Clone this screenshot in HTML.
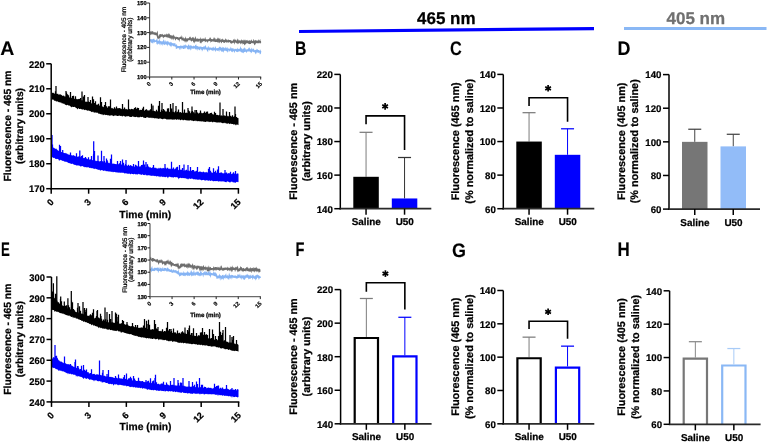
<!DOCTYPE html>
<html><head><meta charset="utf-8"><style>
html,body{margin:0;padding:0;background:#fff;}
svg{display:block;font-family:"Liberation Sans", sans-serif;will-change:transform;}

</style></head><body>
<svg width="768" height="442" viewBox="0 0 768 442" text-rendering="geometricPrecision">
<rect width="768" height="442" fill="#fff"/>
<polygon points="299,30 594,27 594,30.2 299,33" fill="#0000ff"/>
<rect x="624" y="27" width="142.5" height="3" fill="#8ab8f5"/>
<text x="417" y="24" font-size="17" text-anchor="start" font-weight="bold" fill="#000" stroke="#000" stroke-width="0.25" >465 nm</text>
<text x="666.5" y="24.1" font-size="17" text-anchor="start" font-weight="bold" fill="#707070" stroke="#707070" stroke-width="0.25" >405 nm</text>
<text x="0.3" y="55" font-size="19.5" text-anchor="start" font-weight="bold" fill="#000" stroke="#000" stroke-width="0.1" >A</text>
<text x="295" y="55" font-size="19.5" text-anchor="start" font-weight="bold" fill="#000" stroke="#000" stroke-width="0.1" transform="translate(295,0) scale(0.81,1) translate(-295,0)">B</text>
<text x="450" y="55.3" font-size="19.5" text-anchor="start" font-weight="bold" fill="#000" stroke="#000" stroke-width="0.1" transform="translate(450,0) scale(0.83,1) translate(-450,0)">C</text>
<text x="617.5" y="55" font-size="19.5" text-anchor="start" font-weight="bold" fill="#000" stroke="#000" stroke-width="0.1" transform="translate(617.5,0) scale(0.92,1) translate(-617.5,0)">D</text>
<text x="1" y="256.3" font-size="19.5" text-anchor="start" font-weight="bold" fill="#000" stroke="#000" stroke-width="0.1" transform="translate(1,0) scale(0.68,1) translate(-1,0)">E</text>
<text x="295.5" y="256.3" font-size="19.5" text-anchor="start" font-weight="bold" fill="#000" stroke="#000" stroke-width="0.1" transform="translate(295.5,0) scale(0.75,1) translate(-295.5,0)">F</text>
<text x="452" y="256.5" font-size="19.5" text-anchor="start" font-weight="bold" fill="#000" stroke="#000" stroke-width="0.1" transform="translate(452,0) scale(0.92,1) translate(-452,0)">G</text>
<text x="617.5" y="256.3" font-size="19.5" text-anchor="start" font-weight="bold" fill="#000" stroke="#000" stroke-width="0.1" transform="translate(617.5,0) scale(0.87,1) translate(-617.5,0)">H</text>
<path d="M52,92.59 52.5,92.71 53,93.18 53.5,92.59 54,93.57 54.5,93.76 55,93.16 55.5,94.06 56,93.99 56.5,93.82 57,93.72 57.5,94.07 58,93.56 58.5,94.52 59,94.95 59.5,94.15 60,94.28 60.5,94.35 61,95.1 61.5,94.79 62,95.46 62.5,95.86 63,96.07 63.5,95.61 64,95.54 64.5,96.42 65,96.38 65.5,96.48 66,96.51 66.5,97 67,96.95 67.5,97.04 68,96.84 68.5,97.23 69,97.24 69.5,97.74 70,97.12 70.5,97.33 71,97.19 71.5,97.94 72,98.27 72.5,97.69 73,98.58 73.5,98.63 74,98.28 74.5,98.89 75,98.72 75.5,98.92 76,99.05 76.5,98.81 77,99.54 77.5,98.98 78,99.36 78.5,98.86 79,99.29 79.5,99.44 80,99.98 80.5,99.49 81,99.64 81.5,100.36 82,100.86 82.5,100.04 83,100.36 83.5,100.37 84,101.48 84.5,101.38 85,101.06 85.5,101.93 86,101.84 86.5,101.43 87,101.97 87.5,101.98 88,101.58 88.5,102.4 89,101.92 89.5,101.92 90,102.66 90.5,102.87 91,103.15 91.5,103.15 92,103.81 92.5,103.65 93,103.64 93.5,104.07 94,103.98 94.5,103.72 95,104.61 95.5,105 96,104.97 96.5,104.51 97,104.6 97.5,104.59 98,104.97 98.5,105.25 99,105.49 99.5,105.2 100,106.25 100.5,105.84 101,105.64 101.5,106.19 102,105.85 102.5,106.95 103,106.24 103.5,107.19 104,106.98 104.5,107.31 105,106.59 105.5,107.12 106,107.55 106.5,107.06 107,107.03 107.5,107.69 108,108.01 108.5,107.74 109,107.84 109.5,108.56 110,108.22 110.5,108.14 111,108.1 111.5,107.67 112,108.65 112.5,107.74 113,108.62 113.5,108.72 114,108.63 114.5,108.5 115,108.07 115.5,108.67 116,108.48 116.5,108.39 117,108.29 117.5,108.05 118,108.82 118.5,108.04 119,108.04 119.5,108.11 120,108.33 120.5,108.23 121,109.11 121.5,109.27 122,108.23 122.5,108.74 123,108.56 123.5,109.28 124,108.82 124.5,109.25 125,108.31 125.5,109.46 126,108.64 126.5,108.97 127,109.6 127.5,109.43 128,109.19 128.5,109.09 129,108.78 129.5,109.01 130,109.19 130.5,109.52 131,108.93 131.5,108.81 132,109 132.5,109.08 133,109.42 133.5,109.24 134,108.91 134.5,109.28 135,109.63 135.5,109.29 136,110.13 136.5,109.88 137,109.99 137.5,109.95 138,109.67 138.5,109.12 139,110.25 139.5,110.32 140,109.83 140.5,109.71 141,109.98 141.5,110.08 142,109.89 142.5,110.24 143,110.59 143.5,110.21 144,110.66 144.5,110.67 145,110.23 145.5,110.21 146,110.32 146.5,110.2 147,110.41 147.5,110.37 148,110.24 148.5,110.38 149,110.48 149.5,110.28 150,110.13 150.5,110.81 151,110.6 151.5,110.42 152,110.18 152.5,111.35 153,110.93 153.5,110.83 154,110.71 154.5,111.11 155,111.19 155.5,111.55 156,110.93 156.5,111.21 157,111.32 157.5,111.41 158,110.74 158.5,111.76 159,111.82 159.5,111.14 160,111.91 160.5,111.93 161,111.22 161.5,111.65 162,111.96 162.5,111.02 163,111.62 163.5,111.79 164,111.13 164.5,111.79 165,111.78 165.5,111.32 166,111.62 166.5,111.27 167,111.7 167.5,111.59 168,111.74 168.5,112.33 169,112.35 169.5,111.58 170,112.24 170.5,111.61 171,111.4 171.5,111.95 172,111.52 172.5,111.85 173,111.68 173.5,111.94 174,111.78 174.5,112.59 175,112.35 175.5,112.32 176,112.79 176.5,112.11 177,112.85 177.5,111.86 178,112.76 178.5,112.15 179,112.82 179.5,112.16 180,112.12 180.5,112.07 181,112.5 181.5,112.92 182,112.26 182.5,112.63 183,112.49 183.5,112.86 184,112.61 184.5,112.98 185,112.78 185.5,113.11 186,112.54 186.5,112.47 187,113.2 187.5,112.97 188,112.88 188.5,112.66 189,113.53 189.5,113.02 190,112.7 190.5,113.61 191,112.84 191.5,113.57 192,112.54 192.5,113.69 193,113.42 193.5,113.69 194,113.45 194.5,113.25 195,113.3 195.5,113.39 196,113.3 196.5,112.83 197,113.59 197.5,112.89 198,113.22 198.5,113.59 199,113.55 199.5,112.6 200,112.92 200.5,113.24 201,113.68 201.5,112.52 202,112.97 202.5,113.29 203,113.25 203.5,112.71 204,112.78 204.5,113.28 205,112.84 205.5,112.93 206,112.74 206.5,113.86 207,113.2 207.5,113.69 208,113.04 208.5,113.64 209,114.06 209.5,113.48 210,113.56 210.5,114.35 211,114.5 211.5,114.77 212,113.76 212.5,114.17 213,114.35 213.5,114.58 214,114.55 214.5,115 215,114.63 215.5,115.28 216,114.95 216.5,114.74 217,115.04 217.5,114.65 218,115.05 218.5,115.15 219,115.46 219.5,114.81 220,115.05 220.5,115.92 221,115.46 221.5,115.28 222,115.8 222.5,116.14 223,115.48 223.5,115.37 224,115.71 224.5,115.49 225,115.36 225.5,116.2 226,115.55 226.5,116.26 227,115.67 227.5,115.69 228,116.63 228.5,115.86 229,116.58 229.5,116.01 230,116.37 230.5,117.13 231,116.88 231.5,116.46 232,116.26 232.5,117.18 233,117.27 233.5,116.77 234,116.84 234.5,117.42 235,116.96 235.5,117.71 236,117.25 236.5,117.61 237,117.91 237.5,117.78 238,117.91 238.5,118.16 238.5,124.86 238,125.23 237.5,124.55 237,124.5 236.5,124.4 236,125.52 235.5,125.01 235,124.24 234.5,124.2 234,124.72 233.5,124.56 233,123.89 232.5,123.95 232,124.03 231.5,123.65 231,124.36 230.5,123.5 230,123.52 229.5,124.26 229,123.68 228.5,123.34 228,123.37 227.5,123.99 227,123.26 226.5,123.52 226,123.64 225.5,123.09 225,122.7 224.5,122.77 224,123.49 223.5,122.76 223,123.35 222.5,123.34 222,122.77 221.5,122.84 221,122.66 220.5,122.33 220,122.45 219.5,122.83 219,122.09 218.5,122.42 218,122.84 217.5,122.28 217,122.81 216.5,122.52 216,122.12 215.5,122.61 215,121.64 214.5,122.14 214,121.72 213.5,121.66 213,122.6 212.5,122.2 212,122.1 211.5,121.59 211,121.93 210.5,121.93 210,121.62 209.5,121.91 209,122.19 208.5,121.81 208,121.36 207.5,121.66 207,121.5 206.5,121.39 206,121.75 205.5,121.93 205,122.05 204.5,121.54 204,121.92 203.5,121.6 203,121.47 202.5,121.58 202,120.93 201.5,121.67 201,121.25 200.5,121.16 200,121.57 199.5,121.18 199,121.12 198.5,120.89 198,121.46 197.5,121.28 197,120.67 196.5,120.82 196,121.39 195.5,120.59 195,120.74 194.5,120.84 194,120.88 193.5,121.21 193,120.73 192.5,120.5 192,120.91 191.5,120.43 191,120.35 190.5,120.25 190,120.21 189.5,120.4 189,120.67 188.5,120.23 188,120.64 187.5,120.22 187,120.44 186.5,120.51 186,119.66 185.5,120.16 185,120.24 184.5,119.83 184,119.7 183.5,120.31 183,120.43 182.5,119.72 182,119.8 181.5,119.44 181,120.32 180.5,120.24 180,119.78 179.5,119.59 179,119.53 178.5,119.82 178,119.42 177.5,119.21 177,119.61 176.5,119.9 176,119.41 175.5,119.37 175,119.22 174.5,119.77 174,119.42 173.5,119.5 173,119.84 172.5,119.78 172,119.31 171.5,119.6 171,119.52 170.5,119.22 170,119.57 169.5,119.42 169,119.37 168.5,119.45 168,119.47 167.5,119.45 167,119.19 166.5,119.64 166,118.74 165.5,119.07 165,118.69 164.5,118.83 164,118.69 163.5,118.81 163,119.18 162.5,119.29 162,119.03 161.5,119.02 161,118.54 160.5,118.53 160,118.41 159.5,118.45 159,118.67 158.5,118.94 158,118.45 157.5,118.52 157,118.58 156.5,118.14 156,118.61 155.5,117.91 155,118.49 154.5,118.18 154,118.21 153.5,117.69 153,118.19 152.5,117.59 152,118.4 151.5,117.62 151,117.98 150.5,117.62 150,118.08 149.5,117.5 149,118.23 148.5,117.61 148,117.62 147.5,117.25 147,117.29 146.5,117.17 146,118 145.5,117.92 145,117.92 144.5,117.82 144,117.87 143.5,117.74 143,116.97 142.5,116.79 142,117.02 141.5,116.99 141,117.2 140.5,116.69 140,116.77 139.5,117.5 139,117.14 138.5,117.15 138,117.45 137.5,117.36 137,116.8 136.5,116.79 136,116.98 135.5,117.09 135,117.3 134.5,116.84 134,116.91 133.5,116.83 133,116.19 132.5,116.22 132,116.89 131.5,116.97 131,116.87 130.5,116.94 130,116.98 129.5,116.38 129,116.65 128.5,115.94 128,116.1 127.5,116.33 127,116.55 126.5,116.26 126,116.13 125.5,116.73 125,116.68 124.5,115.93 124,116.27 123.5,115.71 123,115.84 122.5,116.38 122,116.57 121.5,115.78 121,115.95 120.5,115.95 120,115.76 119.5,115.6 119,115.66 118.5,115.73 118,116.12 117.5,115.96 117,115.96 116.5,115.45 116,115.64 115.5,115.43 115,115.32 114.5,115.79 114,115.83 113.5,116.18 113,115.7 112.5,115.53 112,115.45 111.5,115.26 111,115.37 110.5,115.62 110,115.7 109.5,115.79 109,115.24 108.5,115.23 108,115.43 107.5,115.35 107,114.98 106.5,114.98 106,114.79 105.5,115.13 105,114.79 104.5,114.54 104,114.73 103.5,114.66 103,115.48 102.5,114.14 102,114.48 101.5,114.33 101,114.44 100.5,114.1 100,114.02 99.5,113.62 99,113.9 98.5,113.79 98,112.87 97.5,112.69 97,112.85 96.5,112.84 96,112.45 95.5,112.51 95,112.38 94.5,112.72 94,112.25 93.5,112.56 93,111.36 92.5,112.2 92,111.77 91.5,112.3 91,111.62 90.5,111.27 90,110.78 89.5,110.67 89,111.13 88.5,110.31 88,110.44 87.5,110.76 87,110.51 86.5,110.17 86,109.79 85.5,109.81 85,110.32 84.5,109.99 84,109.78 83.5,109.15 83,109.54 82.5,109.58 82,109.38 81.5,109.21 81,109.09 80.5,108.83 80,108.99 79.5,108.95 79,108.92 78.5,107.96 78,108.47 77.5,109.52 77,108.86 76.5,108.01 76,108.07 75.5,107.61 75,106.96 74.5,106.78 74,106.9 73.5,107.04 73,107.06 72.5,106.8 72,106.76 71.5,107.47 71,106.66 70.5,106.58 70,105.75 69.5,105.48 69,105.72 68.5,105.43 68,105.04 67.5,104.7 67,105.22 66.5,105.26 66,104.95 65.5,104.81 65,104.72 64.5,104 64,103.53 63.5,103.67 63,103.85 62.5,103.12 62,103.66 61.5,102.79 61,102.42 60.5,102.64 60,102 59.5,102.19 59,102.38 58.5,101.65 58,102.06 57.5,101.31 57,101.34 56.5,101.48 56,101.38 55.5,100.78 55,100.67 54.5,100.85 54,100.48 53.5,99.57 53,99.79 52.5,99.6 52,99.45Z" fill="#000"/>
<path d="M55.5,95.08V91.13 M66.5,98.12V92.49 M67.5,98.4V94.15 M68.5,98.68V95.29 M72.5,99.67V96.06 M73.5,99.91V95.82 M75.5,100.36V96.18 M79.5,101.29V98.89 M80.5,101.54V97.9 M83.5,102.38V96.54 M84.5,102.66V94.95 M88.5,103.78V101.4 M89.5,104.06V101.96 M90.5,104.37V100.04 M92.5,105.03V100.89 M93.5,105.36V99.23 M94.5,105.69V102.98 M95.5,106.02V101.2 M98.5,107V103.74 M100.5,107.61V97.15 M101.5,107.83V104.22 M104.5,108.49V105.03 M106.5,108.93V106.27 M108.5,109.37V106.17 M109.5,109.59V106.26 M110.5,109.73V107.64 M114.5,109.92V107.22 M116.5,110.03V106.54 M122.5,110.35V107.11 M124.5,110.47V107.46 M134.5,111.07V108.05 M135.5,111.13V107.22 M136.5,111.19V108.64 M137.5,111.25V107.74 M138.5,111.31V107.89 M142.5,111.6V108.44 M143.5,111.68V106.86 M145.5,111.84V109.8 M146.5,111.92V109.19 M150.5,112.24V109.16 M151.5,112.32V103.7 M156.5,112.72V109.79 M158.5,112.88V105.74 M159.5,112.96V107.43 M161.5,113.08V109.87 M162.5,113.12V111.02 M163.5,113.17V109 M164.5,113.22V110.33 M167.5,113.38V108.43 M168.5,113.42V108.32 M170.5,113.53V110.98 M171.5,113.59V108.6 M175.5,113.83V111 M177.5,113.95V111.85 M178.5,114.01V109.62 M182.5,114.25V109.59 M184.5,114.37V109.57 M188.5,114.61V110.21 M189.5,114.67V111.33 M191.5,114.7V111.54 M192.5,114.7V111.05 M193.5,114.7V112.29 M196.5,114.7V110.07 M197.5,114.7V112.47 M200.5,114.7V110.6 M204.5,114.7V111.51 M206.5,114.95V111.71 M207.5,115.12V111.48 M210.5,115.64V112.93 M211.5,115.81V112.78 M214.5,116.32V111.67 M215.5,116.46V112.93 M226.5,117.69V111.44 M230.5,118.19V115.84 M232.5,118.44V115.37 M234.5,118.7V116.18 M235.5,118.82V114.09 M236.5,118.95V116.95 M56,95.22V86 M66,97.98V91 M70.5,99.21V92 M82,101.96V91.5 M88,103.64V97 M92.5,105.03V96.5 M101.5,107.83V102 M105.5,108.71V102 M110.5,109.73V99.5 M122.5,110.35V104 M128.5,110.71V99.5 M153,112.44V105.5 M159.5,112.96V101 M162,113.1V103 M170.5,113.53V104 M173,113.68V103 M176,113.86V106 M182.5,114.25V102 M188,114.58V108 M192,114.7V106.5 M195,114.7V110 M220,116.95V102.5 M223,117.28V109 M229.5,118.07V112 M235,118.76V106.5" stroke="#000" stroke-width="1.25" fill="none"/>
<path d="M52,146.72 52.5,147.42 53,147.55 53.5,147.45 54,148.3 54.5,147.68 55,148.97 55.5,148.87 56,148.55 56.5,148.76 57,149.73 57.5,149.78 58,150.76 58.5,150.64 59,150.84 59.5,150.54 60,151.57 60.5,151.37 61,151.91 61.5,151.92 62,152.18 62.5,152.36 63,152.93 63.5,152.39 64,152.99 64.5,153.02 65,153.18 65.5,152.78 66,153.66 66.5,153.18 67,153.53 67.5,154.61 68,153.62 68.5,154.95 69,154.15 69.5,154.69 70,155.18 70.5,155.42 71,155.39 71.5,154.99 72,155.6 72.5,155.22 73,155.66 73.5,155.09 74,155.28 74.5,155.99 75,155.65 75.5,156.27 76,156.8 76.5,155.97 77,156.4 77.5,157.03 78,156.14 78.5,156.62 79,156.64 79.5,157.1 80,157.53 80.5,156.98 81,156.81 81.5,157.51 82,157.75 82.5,157.14 83,158.05 83.5,158.24 84,157.78 84.5,158.01 85,158.3 85.5,158.69 86,158.61 86.5,158.03 87,158.89 87.5,158.83 88,159.38 88.5,159.35 89,159.43 89.5,159.42 90,159.61 90.5,159.09 91,159.72 91.5,159.83 92,159.94 92.5,160.28 93,160 93.5,159.69 94,159.96 94.5,159.91 95,159.99 95.5,161.14 96,160.4 96.5,161.14 97,160.74 97.5,160.93 98,160.9 98.5,161.02 99,161.42 99.5,161.14 100,161.51 100.5,161.04 101,161.78 101.5,161.35 102,162.31 102.5,162.51 103,161.79 103.5,161.54 104,162.75 104.5,162.29 105,162.44 105.5,162.74 106,161.98 106.5,162.08 107,162.18 107.5,163.36 108,162.58 108.5,163.14 109,162.44 109.5,162.97 110,163.52 110.5,163.7 111,163.02 111.5,163.84 112,163.81 112.5,163.38 113,163.7 113.5,163.58 114,163.76 114.5,163.85 115,163.99 115.5,163.93 116,164.37 116.5,164.21 117,163.76 117.5,164.29 118,164.44 118.5,164.03 119,164.24 119.5,164.29 120,164 120.5,164.11 121,164.33 121.5,164.79 122,164.29 122.5,164.24 123,164.9 123.5,165 124,165.44 124.5,165.52 125,165.16 125.5,165.66 126,164.83 126.5,165.56 127,165.17 127.5,165.86 128,166.13 128.5,165.34 129,165.91 129.5,166.08 130,165.5 130.5,165.61 131,166 131.5,165.59 132,166.07 132.5,166.46 133,165.85 133.5,165.96 134,166.36 134.5,166.68 135,166.68 135.5,165.72 136,165.91 136.5,166.66 137,166.61 137.5,166.07 138,166.66 138.5,166.82 139,166.62 139.5,166.58 140,166.45 140.5,166.06 141,166.81 141.5,166.85 142,166.43 142.5,166.17 143,166.85 143.5,166.22 144,166.37 144.5,166.35 145,166.97 145.5,167.51 146,166.56 146.5,166.88 147,166.88 147.5,166.96 148,167.25 148.5,167.62 149,167.16 149.5,167.13 150,167.53 150.5,166.94 151,167.91 151.5,167.73 152,167.88 152.5,167.13 153,167.11 153.5,167.61 154,167.73 154.5,168.03 155,167.37 155.5,168.24 156,167.43 156.5,168.47 157,168.32 157.5,168.38 158,168.63 158.5,168.32 159,167.61 159.5,168.65 160,167.85 160.5,167.67 161,168.53 161.5,168.01 162,168.7 162.5,167.87 163,168.46 163.5,167.78 164,168.16 164.5,168.1 165,169.04 165.5,168.26 166,168.63 166.5,168.29 167,168.96 167.5,168.28 168,168.84 168.5,168.85 169,168.39 169.5,169.2 170,168.11 170.5,168.93 171,169.29 171.5,169.41 172,168.68 172.5,168.71 173,168.48 173.5,169.55 174,169.67 174.5,169.09 175,169 175.5,169.8 176,169.51 176.5,169.55 177,169.57 177.5,169.28 178,170.06 178.5,170.23 179,169.57 179.5,169.37 180,169.8 180.5,169.53 181,170.12 181.5,169.54 182,169.86 182.5,170.14 183,170.65 183.5,170.68 184,170.43 184.5,170.5 185,170.23 185.5,170.51 186,169.98 186.5,171.09 187,170.96 187.5,170.78 188,170.59 188.5,170.59 189,170.84 189.5,170.47 190,171.45 190.5,171.6 191,171.22 191.5,170.58 192,170.99 192.5,170.98 193,170.73 193.5,171.33 194,171 194.5,171.85 195,171.09 195.5,171.58 196,171.28 196.5,171.8 197,171.03 197.5,171.6 198,172.14 198.5,171.66 199,172.14 199.5,171.29 200,171.83 200.5,171.53 201,171.71 201.5,172.28 202,171.84 202.5,172.43 203,171.56 203.5,171.66 204,171.82 204.5,172.51 205,172.34 205.5,172.56 206,171.81 206.5,172.09 207,172.69 207.5,172.53 208,172.1 208.5,171.83 209,172.12 209.5,171.9 210,171.96 210.5,172.85 211,172.82 211.5,172.34 212,172.22 212.5,173.01 213,172.73 213.5,172.24 214,172.26 214.5,172.41 215,172.91 215.5,172.25 216,172.72 216.5,172.6 217,172.78 217.5,172.49 218,172.29 218.5,173.37 219,172.42 219.5,173.04 220,172.88 220.5,172.42 221,172.59 221.5,173.09 222,173.52 222.5,173 223,173.18 223.5,173.56 224,172.98 224.5,173.5 225,172.69 225.5,173.34 226,172.92 226.5,172.98 227,173.51 227.5,173.7 228,173.36 228.5,173.21 229,172.99 229.5,173.06 230,174.07 230.5,173.44 231,173.55 231.5,174.15 232,173.67 232.5,173.13 233,173.81 233.5,173.33 234,173.86 234.5,173.29 235,173.99 235.5,173.71 236,174.38 236.5,173.75 237,173.59 237.5,173.36 238,173.71 238.5,173.52 238.5,181.9 238,182.36 237.5,181.78 237,182.31 236.5,181.87 236,182.22 235.5,183.07 235,182.54 234.5,182.53 234,182.53 233.5,182.2 233,182.54 232.5,182.06 232,181.53 231.5,181.83 231,181.78 230.5,181.95 230,183.05 229.5,182.08 229,182.18 228.5,181.46 228,182.02 227.5,181.32 227,181.32 226.5,182.17 226,182.2 225.5,182.05 225,182.07 224.5,181.73 224,181.37 223.5,181.61 223,181.62 222.5,181.21 222,181.62 221.5,181.6 221,181.34 220.5,181.19 220,181.78 219.5,180.96 219,181.56 218.5,181.38 218,181.4 217.5,181.12 217,180.85 216.5,181.14 216,181.12 215.5,181.24 215,181.06 214.5,180.97 214,181.32 213.5,181.2 213,181.16 212.5,180.82 212,180.82 211.5,180.28 211,180.97 210.5,181.06 210,180.39 209.5,180.35 209,180.89 208.5,180.71 208,180.27 207.5,180.38 207,180.43 206.5,179.93 206,180.51 205.5,180.4 205,180.38 204.5,180.45 204,179.69 203.5,179.95 203,179.88 202.5,179.89 202,180.19 201.5,180.16 201,180.14 200.5,179.42 200,179.89 199.5,179.61 199,179.13 198.5,179.73 198,180.01 197.5,179.62 197,179.65 196.5,179.4 196,178.94 195.5,179.67 195,179.18 194.5,179.33 194,179.35 193.5,179.46 193,178.85 192.5,178.81 192,178.84 191.5,178.62 191,178.66 190.5,178.89 190,178.78 189.5,178.4 189,178.42 188.5,179.09 188,179.81 187.5,178.73 187,178.76 186.5,178.93 186,177.94 185.5,178.54 185,178.14 184.5,178.18 184,177.9 183.5,178.18 183,177.74 182.5,178.23 182,177.67 181.5,178.15 181,177.95 180.5,177.84 180,177.85 179.5,178.14 179,178.13 178.5,179.46 178,177.52 177.5,177.78 177,177.1 176.5,177.14 176,177.19 175.5,177.15 175,177.3 174.5,177.02 174,177.11 173.5,177.67 173,177.53 172.5,177.05 172,177.78 171.5,176.91 171,177.17 170.5,177.03 170,176.71 169.5,176.8 169,176.81 168.5,177 168,178.62 167.5,177.38 167,176.97 166.5,176.58 166,177.16 165.5,177.29 165,176.63 164.5,176.97 164,177.23 163.5,176.42 163,177.23 162.5,176.69 162,176.82 161.5,176.31 161,177.05 160.5,176.28 160,177.52 159.5,176.22 159,176.83 158.5,176.14 158,176.61 157.5,175.89 157,176.21 156.5,176.55 156,176.33 155.5,175.88 155,175.81 154.5,176.04 154,176.35 153.5,175.53 153,175.94 152.5,175.43 152,175.95 151.5,175.75 151,175.65 150.5,175.71 150,175.2 149.5,175.46 149,175.22 148.5,175.25 148,175.23 147.5,175.32 147,175.65 146.5,175.08 146,175.49 145.5,174.6 145,174.65 144.5,175.28 144,174.66 143.5,175.06 143,175.05 142.5,174.24 142,174.32 141.5,175 141,174.95 140.5,174.25 140,174.43 139.5,174.2 139,173.94 138.5,173.85 138,174.56 137.5,174.6 137,174.32 136.5,174.13 136,174.56 135.5,174.21 135,174.25 134.5,173.67 134,173.89 133.5,174.44 133,174.07 132.5,173.93 132,174.12 131.5,173.5 131,174.3 130.5,174.32 130,173.92 129.5,173.74 129,173.3 128.5,174.06 128,173.78 127.5,173.63 127,173.59 126.5,173.17 126,173.85 125.5,173.09 125,173.4 124.5,173.57 124,172.99 123.5,172.67 123,172.87 122.5,172.65 122,172.83 121.5,172.4 121,173.03 120.5,172.76 120,172.44 119.5,172.5 119,173.03 118.5,172.51 118,172.62 117.5,172.77 117,172.04 116.5,172.62 116,172.43 115.5,172.22 115,171.98 114.5,171.94 114,171.74 113.5,171.94 113,172.43 112.5,171.75 112,171.87 111.5,172 111,171.46 110.5,171.7 110,171.49 109.5,171.57 109,171.44 108.5,171.27 108,171.65 107.5,170.98 107,171.28 106.5,170.97 106,171.53 105.5,170.56 105,170.94 104.5,170.54 104,170.49 103.5,170.94 103,170.74 102.5,170.3 102,170.06 101.5,170.04 101,170.45 100.5,170.45 100,170.56 99.5,169.86 99,169.87 98.5,169.81 98,170.02 97.5,169.55 97,169.08 96.5,169.17 96,169.04 95.5,168.79 95,168.52 94.5,169.21 94,168.57 93.5,168.96 93,168.07 92.5,168.15 92,168.59 91.5,168.04 91,168.16 90.5,168.03 90,167.43 89.5,168.09 89,168.07 88.5,167.09 88,167.19 87.5,167.24 87,167.52 86.5,167.26 86,167.29 85.5,167.07 85,167.3 84.5,167.21 84,166.44 83.5,167.11 83,166.31 82.5,166.03 82,166.18 81.5,166.03 81,166.87 80.5,166.44 80,165.69 79.5,165.78 79,165.71 78.5,165.3 78,165.73 77.5,165.25 77,165.55 76.5,165.52 76,165.19 75.5,165.08 75,164.78 74.5,164.65 74,164.88 73.5,164.34 73,163.88 72.5,163.63 72,163.61 71.5,163.92 71,164.02 70.5,163.23 70,163.75 69.5,163.12 69,163.12 68.5,162.64 68,163.16 67.5,162.04 67,162.18 66.5,161.69 66,161.71 65.5,161.53 65,162.16 64.5,161.25 64,161.52 63.5,160.76 63,161.11 62.5,160.79 62,160.76 61.5,160.11 61,160.43 60.5,159.87 60,159.96 59.5,160.4 59,160.72 58.5,159.49 58,159.07 57.5,158.88 57,158.68 56.5,159.31 56,158.7 55.5,158.95 55,158.52 54.5,157.72 54,157.92 53.5,157.86 53,157.94 52.5,156.96 52,157.43Z" fill="#0000ff"/>
<path d="M52.5,148.59V144.39 M59.5,152.71V144.85 M70.5,156.61V152.62 M76.5,157.93V153.33 M79.5,158.59V156.37 M81.5,159.04V156.02 M82.5,159.27V155.32 M85.5,159.97V156.96 M88.5,160.66V157.24 M91.5,161.31V156.04 M93.5,161.73V154.28 M94.5,161.94V150.94 M100.5,163.19V161.13 M101.5,163.35V159.12 M102.5,163.53V161.34 M104.5,163.87V160.98 M106.5,164.21V158.45 M107.5,164.38V161.29 M110.5,164.86V158.85 M111.5,164.97V154.49 M117.5,165.62V163.11 M119.5,165.84V163.18 M120.5,165.99V160.99 M122.5,166.32V159.58 M123.5,166.5V162.85 M125.5,166.84V163.9 M128.5,167.34V164.71 M130.5,167.62V165.36 M133.5,167.78V163.97 M135.5,167.88V164.87 M136.5,167.92V165.59 M141.5,168.23V165.04 M142.5,168.32V164.76 M144.5,168.5V164.4 M147.5,168.78V164.29 M148.5,168.87V166.59 M165.5,170.08V167.65 M167.5,170.18V167.8 M171.5,170.48V166.76 M173.5,170.72V167.54 M175.5,170.96V168.59 M176.5,171.08V167.17 M177.5,171.2V166.78 M179.5,171.44V164.88 M182.5,171.78V168.06 M186.5,172.22V169.8 M190.5,172.64V166.93 M192.5,172.8V170.04 M193.5,172.88V170 M196.5,173.12V170.87 M197.5,173.2V166.94 M208.5,173.91V168.73 M210.5,174.03V170.86 M213.5,174.21V168.26 M214.5,174.27V171.94 M215.5,174.33V170.84 M217.5,174.43V169.43 M218.5,174.48V166.14 M221.5,174.62V172.45 M226.5,174.89V172.47 M230.5,175.13V171.72 M233.5,175.3V172.27 M235.5,175.42V170.92 M52,148.29V135 M60.5,153.18V146 M62.7,153.94V150 M79.8,158.66V150.4 M93.7,161.78V141.3 M98,162.68V155.5 M101.5,163.35V150.7 M104,163.78V156 M107,164.29V160 M117.5,165.62V161 M126,166.92V160 M138.5,168.03V161 M143.5,168.41V160.5 M146,168.64V162 M153.5,169.28V165 M165,170.05V164 M171.5,170.48V161.7 M184,171.94V164.5 M188,172.38V165 M209.5,173.97V167 M225,174.8V170" stroke="#0000ff" stroke-width="1.25" fill="none"/>
<line x1="51.2" y1="63.8" x2="51.2" y2="189.45" stroke="#000" stroke-width="1.5" stroke-linecap="butt"/>
<line x1="50.45" y1="188.7" x2="239.15" y2="188.7" stroke="#000" stroke-width="1.5" stroke-linecap="butt"/>
<line x1="46.2" y1="188.7" x2="51.2" y2="188.7" stroke="#000" stroke-width="1.5" stroke-linecap="butt"/>
<text transform="translate(44.7,192.4) scale(0.99,1)" font-size="9.5" text-anchor="end" font-weight="bold" fill="#000" stroke="#000" stroke-width="0.2">170</text>
<line x1="46.2" y1="163.72" x2="51.2" y2="163.72" stroke="#000" stroke-width="1.5" stroke-linecap="butt"/>
<text transform="translate(44.7,167.42) scale(0.99,1)" font-size="9.5" text-anchor="end" font-weight="bold" fill="#000" stroke="#000" stroke-width="0.2">180</text>
<line x1="46.2" y1="138.74" x2="51.2" y2="138.74" stroke="#000" stroke-width="1.5" stroke-linecap="butt"/>
<text transform="translate(44.7,142.44) scale(0.99,1)" font-size="9.5" text-anchor="end" font-weight="bold" fill="#000" stroke="#000" stroke-width="0.2">190</text>
<line x1="46.2" y1="113.76" x2="51.2" y2="113.76" stroke="#000" stroke-width="1.5" stroke-linecap="butt"/>
<text transform="translate(44.7,117.46) scale(0.99,1)" font-size="9.5" text-anchor="end" font-weight="bold" fill="#000" stroke="#000" stroke-width="0.2">200</text>
<line x1="46.2" y1="88.78" x2="51.2" y2="88.78" stroke="#000" stroke-width="1.5" stroke-linecap="butt"/>
<text transform="translate(44.7,92.48) scale(0.99,1)" font-size="9.5" text-anchor="end" font-weight="bold" fill="#000" stroke="#000" stroke-width="0.2">210</text>
<line x1="46.2" y1="63.8" x2="51.2" y2="63.8" stroke="#000" stroke-width="1.5" stroke-linecap="butt"/>
<text transform="translate(44.7,67.5) scale(0.99,1)" font-size="9.5" text-anchor="end" font-weight="bold" fill="#000" stroke="#000" stroke-width="0.2">220</text>
<line x1="51.2" y1="188.7" x2="51.2" y2="193.7" stroke="#000" stroke-width="1.5" stroke-linecap="butt"/>
<text transform="translate(52.1,200.5) rotate(-45)" font-size="9.1" text-anchor="end" font-weight="bold" stroke="#000" stroke-width="0.25" dominant-baseline="central">0</text>
<line x1="88.64" y1="188.7" x2="88.64" y2="193.7" stroke="#000" stroke-width="1.5" stroke-linecap="butt"/>
<text transform="translate(89.54,200.5) rotate(-45)" font-size="9.1" text-anchor="end" font-weight="bold" stroke="#000" stroke-width="0.25" dominant-baseline="central">3</text>
<line x1="126.08" y1="188.7" x2="126.08" y2="193.7" stroke="#000" stroke-width="1.5" stroke-linecap="butt"/>
<text transform="translate(126.98,200.5) rotate(-45)" font-size="9.1" text-anchor="end" font-weight="bold" stroke="#000" stroke-width="0.25" dominant-baseline="central">6</text>
<line x1="163.52" y1="188.7" x2="163.52" y2="193.7" stroke="#000" stroke-width="1.5" stroke-linecap="butt"/>
<text transform="translate(164.42,200.5) rotate(-45)" font-size="9.1" text-anchor="end" font-weight="bold" stroke="#000" stroke-width="0.25" dominant-baseline="central">9</text>
<line x1="200.96" y1="188.7" x2="200.96" y2="193.7" stroke="#000" stroke-width="1.5" stroke-linecap="butt"/>
<text transform="translate(201.86,200.5) rotate(-45)" font-size="9.1" text-anchor="end" font-weight="bold" stroke="#000" stroke-width="0.25" dominant-baseline="central">12</text>
<line x1="238.4" y1="188.7" x2="238.4" y2="193.7" stroke="#000" stroke-width="1.5" stroke-linecap="butt"/>
<text transform="translate(239.3,200.5) rotate(-45)" font-size="9.1" text-anchor="end" font-weight="bold" stroke="#000" stroke-width="0.25" dominant-baseline="central">15</text>
<text x="145.3" y="217.5" font-size="10.3" text-anchor="middle" font-weight="bold" fill="#000" stroke="#000" stroke-width="0.25" >Time (min)</text>
<text transform="translate(11.1,126) rotate(-90)" font-size="10.3" text-anchor="middle" font-weight="bold" fill="#000" stroke="#000" stroke-width="0.25">Fluorescence - 465 nm</text>
<text transform="translate(22.9,126) rotate(-90)" font-size="10.3" text-anchor="middle" font-weight="bold" fill="#000" stroke="#000" stroke-width="0.25">(arbitrary units)</text>
<path d="M52,294.6 52.5,295.03 53,295.43 53.5,296.92 54,297.3 54.5,298.28 55,298.23 55.5,299.63 56,300.09 56.5,300.61 57,300.24 57.5,301.5 58,302.42 58.5,302.09 59,302.51 59.5,303.44 60,304.13 60.5,303.85 61,304.77 61.5,304.27 62,304.86 62.5,305.39 63,305.96 63.5,305.74 64,306.32 64.5,306.28 65,307.17 65.5,307.06 66,306.68 66.5,306.83 67,307.21 67.5,308.23 68,308.7 68.5,308.46 69,308.98 69.5,309.34 70,308.72 70.5,309.43 71,309.57 71.5,309.39 72,309.88 72.5,309.78 73,310.67 73.5,310.06 74,310.63 74.5,311.29 75,310.71 75.5,311.89 76,312.03 76.5,312.25 77,312.01 77.5,312.58 78,312.34 78.5,312.15 79,313.39 79.5,312.68 80,313.5 80.5,313.91 81,313.05 81.5,313.64 82,313.74 82.5,313.46 83,314.16 83.5,313.98 84,314.74 84.5,315.19 85,314.54 85.5,315.59 86,315.16 86.5,315.67 87,315.81 87.5,315.41 88,315.98 88.5,315.45 89,316.18 89.5,316 90,316.3 90.5,316.48 91,317.03 91.5,316.53 92,317.51 92.5,317.41 93,317.14 93.5,318.34 94,318.41 94.5,318.04 95,318.66 95.5,319.06 96,318.72 96.5,318.51 97,319.09 97.5,319.56 98,319.07 98.5,319.29 99,320.56 99.5,320.52 100,320.89 100.5,320.03 101,320.26 101.5,321.26 102,320.76 102.5,320.51 103,321.61 103.5,320.66 104,321.61 104.5,321.22 105,321.09 105.5,321.73 106,321.19 106.5,321.75 107,322.15 107.5,321.76 108,322.56 108.5,322.29 109,322.26 109.5,322.74 110,322.46 110.5,322.3 111,322.19 111.5,322.45 112,322.24 112.5,322.21 113,322.31 113.5,322.75 114,322.76 114.5,322.95 115,322.45 115.5,322.82 116,323.66 116.5,323.17 117,323.71 117.5,323.23 118,323.73 118.5,323.41 119,323.94 119.5,323.38 120,323.42 120.5,323.86 121,323.78 121.5,323.84 122,323.78 122.5,324.3 123,324.19 123.5,324.77 124,324.15 124.5,324.79 125,324.8 125.5,324.75 126,324.68 126.5,324.76 127,325.57 127.5,325.83 128,325.86 128.5,325.34 129,326.02 129.5,326.12 130,325.72 130.5,326.42 131,326.17 131.5,325.97 132,326.13 132.5,325.77 133,326.25 133.5,326.19 134,326.56 134.5,327.24 135,327.08 135.5,327.33 136,326.56 136.5,327.35 137,327.51 137.5,327.51 138,327.72 138.5,327.7 139,327.93 139.5,328 140,327.22 140.5,328.28 141,327.29 141.5,328.44 142,327.65 142.5,327.56 143,327.84 143.5,328.67 144,328.17 144.5,328.99 145,328.76 145.5,329.07 146,328.55 146.5,328.99 147,328.7 147.5,328.96 148,329.13 148.5,329.59 149,329.67 149.5,328.96 150,329.82 150.5,329.29 151,329.9 151.5,329.48 152,329.31 152.5,329.63 153,329.36 153.5,329.39 154,329.49 154.5,329.98 155,329.85 155.5,329.92 156,329.95 156.5,330.17 157,330.29 157.5,330.8 158,331.06 158.5,330.74 159,331.23 159.5,330.89 160,331.03 160.5,331.14 161,330.43 161.5,331.29 162,331.56 162.5,331.35 163,331.5 163.5,331.68 164,331.91 164.5,331.31 165,331.03 165.5,331.19 166,331.79 166.5,331.74 167,331.37 167.5,331.94 168,331.33 168.5,331.28 169,331.66 169.5,331.81 170,331.51 170.5,332.1 171,332.11 171.5,331.99 172,332.77 172.5,332.95 173,332.58 173.5,332.47 174,332.38 174.5,332.45 175,332.36 175.5,333.16 176,332.98 176.5,333.64 177,333.5 177.5,332.87 178,333.03 178.5,333.31 179,333.23 179.5,333.9 180,333.67 180.5,333.49 181,333.91 181.5,334.17 182,333.79 182.5,333.44 183,333.82 183.5,333.56 184,334.26 184.5,334.03 185,334.38 185.5,334.51 186,333.83 186.5,334.05 187,334.07 187.5,334.75 188,335.19 188.5,335.04 189,334.42 189.5,335.23 190,334.69 190.5,334.58 191,334.98 191.5,334.82 192,335.68 192.5,335.46 193,335.69 193.5,335.58 194,335.9 194.5,335.62 195,335.93 195.5,336.12 196,336.07 196.5,336.2 197,336.42 197.5,336.09 198,336.61 198.5,336.25 199,336.73 199.5,336.89 200,336.57 200.5,336.45 201,337.23 201.5,337.4 202,337.71 202.5,336.81 203,337.03 203.5,337.79 204,337.97 204.5,337.98 205,337.14 205.5,337.3 206,337.5 206.5,337.38 207,338.35 207.5,338.5 208,338.06 208.5,338.18 209,338.83 209.5,337.83 210,338.1 210.5,338.72 211,338.69 211.5,339.19 212,338.71 212.5,338.65 213,339.26 213.5,338.77 214,339.58 214.5,339.78 215,339.43 215.5,338.84 216,339.18 216.5,339.66 217,339.76 217.5,340.16 218,340.37 218.5,339.9 219,340.14 219.5,339.79 220,340.95 220.5,340.84 221,340.98 221.5,340.95 222,341.02 222.5,341.19 223,340.68 223.5,341.36 224,341.56 224.5,341.3 225,341.72 225.5,341.52 226,341.51 226.5,341.42 227,341.75 227.5,342.02 228,341.61 228.5,342.53 229,342.94 229.5,342.26 230,342.3 230.5,342.43 231,342.81 231.5,342.33 232,343.02 232.5,343.62 233,342.9 233.5,342.73 234,343.94 234.5,343.16 235,343.8 235.5,343.64 236,344.46 236.5,343.65 237,344.59 237.5,343.68 238,344.42 238.5,344.98 238.5,351.28 238,351.72 237.5,351.06 237,351.1 236.5,350.95 236,350.98 235.5,350.6 235,351.15 234.5,350.89 234,350.65 233.5,350.64 233,350.92 232.5,350.84 232,350.46 231.5,350.56 231,350.46 230.5,349.98 230,349.78 229.5,349.4 229,349.48 228.5,350.06 228,350 227.5,348.96 227,348.96 226.5,349.23 226,349.06 225.5,349.3 225,349.46 224.5,348.69 224,348.7 223.5,348.6 223,348.12 222.5,348.21 222,348.13 221.5,348.46 221,348.42 220.5,348.29 220,347.89 219.5,347.28 219,347.5 218.5,347.85 218,347.27 217.5,347.34 217,347.19 216.5,347.23 216,347.12 215.5,346.47 215,346.62 214.5,346.3 214,346.57 213.5,346.22 213,346.48 212.5,346.69 212,346.04 211.5,346.63 211,347.06 210.5,345.88 210,345.71 209.5,346.33 209,345.92 208.5,346.2 208,345.81 207.5,345.88 207,345.36 206.5,345.52 206,345.36 205.5,345.65 205,345.35 204.5,345.4 204,345.25 203.5,344.9 203,345.55 202.5,345.46 202,344.73 201.5,344.84 201,345.11 200.5,345.17 200,344.58 199.5,344.94 199,344.39 198.5,344.79 198,344.68 197.5,344.88 197,344.62 196.5,344.24 196,344.13 195.5,344.59 195,343.88 194.5,344.31 194,343.84 193.5,343.86 193,344.31 192.5,344 192,344.15 191.5,344.23 191,343.65 190.5,343.92 190,343.48 189.5,343.94 189,343.51 188.5,343.41 188,343.84 187.5,343.44 187,343.1 186.5,343.47 186,343.85 185.5,343.06 185,342.82 184.5,343 184,343.1 183.5,343.4 183,343.07 182.5,342.7 182,342.56 181.5,343.25 181,342.86 180.5,342.53 180,343.11 179.5,342.79 179,342.66 178.5,342.69 178,342.55 177.5,342.43 177,342.03 176.5,341.68 176,341.64 175.5,341.7 175,341.51 174.5,341.49 174,341.37 173.5,341.49 173,341.58 172.5,341.88 172,341.48 171.5,340.79 171,340.79 170.5,341.49 170,340.58 169.5,341.4 169,341.11 168.5,341.16 168,341.16 167.5,340.38 167,340.72 166.5,340.7 166,340.07 165.5,339.83 165,340.27 164.5,340.12 164,340.28 163.5,339.74 163,340.6 162.5,339.86 162,339.49 161.5,339.76 161,339.23 160.5,339.59 160,339.53 159.5,339.47 159,339.23 158.5,340.4 158,338.64 157.5,338.73 157,338.99 156.5,339.03 156,339.46 155.5,339.31 155,339.01 154.5,338.63 154,338.49 153.5,338.61 153,339.12 152.5,338.97 152,339.01 151.5,338.6 151,338.67 150.5,338.57 150,338.65 149.5,338.27 149,337.9 148.5,338.72 148,338.04 147.5,338.04 147,338.24 146.5,338.41 146,337.92 145.5,337.72 145,338.14 144.5,337.57 144,337.61 143.5,337.5 143,337.81 142.5,337.1 142,337.54 141.5,337.39 141,337.19 140.5,337.07 140,337.22 139.5,336.76 139,336.65 138.5,336.96 138,336.53 137.5,336.09 137,336.45 136.5,335.73 136,335.87 135.5,335.89 135,335.84 134.5,335.75 134,335.18 133.5,335.45 133,335.04 132.5,334.9 132,334.82 131.5,334.26 131,334.21 130.5,334 130,334.17 129.5,334.35 129,334.02 128.5,333.68 128,334.07 127.5,333.41 127,333.81 126.5,333.61 126,333.05 125.5,333.23 125,332.79 124.5,333.09 124,332.6 123.5,332.21 123,332.42 122.5,331.7 122,332.55 121.5,332.22 121,332.97 120.5,331.63 120,331.25 119.5,331.69 119,331.07 118.5,331.64 118,330.77 117.5,330.6 117,330.52 116.5,331.22 116,330.73 115.5,331.12 115,330.7 114.5,330.95 114,330.14 113.5,330.5 113,331.13 112.5,330.12 112,330.17 111.5,329.77 111,330.28 110.5,329.88 110,329.93 109.5,329.25 109,329.19 108.5,329.71 108,329.85 107.5,329.48 107,329.53 106.5,329.31 106,328.61 105.5,328.74 105,328.69 104.5,328.88 104,328.22 103.5,328.81 103,328.55 102.5,328.8 102,328.01 101.5,327.87 101,328.41 100.5,327.87 100,327.71 99.5,327.21 99,327.61 98.5,328.26 98,326.63 97.5,326.67 97,326.48 96.5,326.47 96,326.08 95.5,326.28 95,325.65 94.5,325.46 94,325.34 93.5,325.76 93,325.34 92.5,324.48 92,324.59 91.5,325.46 91,324.41 90.5,323.85 90,324.26 89.5,323.83 89,323.72 88.5,322.89 88,323.09 87.5,322.86 87,322.9 86.5,322.05 86,322.19 85.5,322.24 85,321.85 84.5,321.27 84,321.99 83.5,321.78 83,321.16 82.5,320.71 82,320.71 81.5,320.95 81,320.1 80.5,319.99 80,320.1 79.5,319.38 79,319.47 78.5,319.59 78,318.67 77.5,318.8 77,318.45 76.5,318.57 76,318.71 75.5,317.67 75,317.58 74.5,317.66 74,317.91 73.5,316.89 73,318.47 72.5,316.78 72,316.71 71.5,316.88 71,316.94 70.5,315.95 70,316.48 69.5,315.4 69,315.45 68.5,315.83 68,315.63 67.5,315.53 67,314.97 66.5,315.27 66,315.1 65.5,314.65 65,314.61 64.5,313.94 64,314.39 63.5,313.47 63,313.73 62.5,313.5 62,313.77 61.5,313.14 61,312.89 60.5,313.16 60,312.93 59.5,312.66 59,312.51 58.5,311.8 58,312.28 57.5,311.73 57,311.53 56.5,311.72 56,311.69 55.5,310.89 55,311.27 54.5,311.95 54,310.12 53.5,309.89 53,310.22 52.5,309.76 52,310.06Z" fill="#000"/>
<path d="M52.5,296.6V291.47 M53.5,298.2V292.38 M55.5,300.68V293.67 M60.5,305.95V298.95 M61.5,306.46V301.24 M65.5,308.5V305.86 M66.5,309.01V305.35 M68.5,310.04V305.33 M69.5,310.55V307.34 M71.5,311.4V300.4 M72.5,311.8V302.24 M74.5,312.6V310.33 M77.5,313.8V307.69 M79.5,314.6V306.13 M80.5,314.97V310.81 M84.5,316.29V308.09 M85.5,316.62V311.97 M86.5,316.94V308.31 M90.5,318.3V314.36 M91.5,318.69V315.26 M92.5,319.08V312.74 M93.5,319.47V309.33 M95.5,320.25V317.83 M96.5,320.63V315.9 M97.5,321.02V310.02 M98.5,321.42V317.53 M99.5,321.81V318.26 M100.5,322.11V313.75 M101.5,322.31V318.82 M103.5,322.74V319.44 M104.5,322.94V320.73 M105.5,323.16V319.27 M107.5,323.58V319.8 M109.5,324V319.36 M110.5,324.16V318.99 M116.5,324.81V313.81 M117.5,324.93V321.42 M118.5,325.03V314.65 M121.5,325.55V323.13 M122.5,325.77V320.09 M124.5,326.24V324.22 M126.5,326.69V324.55 M127.5,326.93V324.59 M132.5,327.93V325.13 M135.5,328.44V324.98 M141.5,329.49V327.39 M143.5,329.87V325.43 M144.5,330.06V319.06 M145.5,330.25V327.77 M146.5,330.44V320.71 M148.5,330.81V319.81 M149.5,331V324.72 M152.5,331.45V329.35 M155.5,331.87V324.09 M156.5,332.01V328.54 M157.5,332.15V329.29 M162.5,332.77V329.25 M164.5,333V330.97 M166.5,333.22V327.67 M168.5,333.44V330.4 M169.5,333.55V328.97 M171.5,333.86V330.93 M173.5,334.19V328.57 M175.5,334.54V332.44 M179.5,335.22V332.86 M181.5,335.48V332.19 M182.5,335.6V331.21 M183.5,335.72V332.62 M184.5,335.84V333.61 M185.5,335.96V333.51 M187.5,336.2V330.04 M188.5,336.32V331.4 M189.5,336.44V325.44 M191.5,336.8V332.94 M193.5,337.2V328.36 M198.5,338.2V335.25 M199.5,338.4V335.57 M200.5,338.58V332.46 M201.5,338.74V332.28 M202.5,338.9V327.9 M203.5,339.06V334.69 M204.5,339.22V332.05 M205.5,339.38V334.77 M206.5,339.54V334.31 M207.5,339.7V335.12 M209.5,340.02V329.02 M211.5,340.34V338.06 M212.5,340.5V329.5 M213.5,340.66V334.05 M215.5,341.01V335.96 M216.5,341.23V338.88 M218.5,341.67V336.12 M220.5,342.11V331.78 M221.5,342.33V334.99 M222.5,342.55V332.98 M224.5,342.99V340.19 M232.5,344.71V339.66 M233.5,344.93V337.38 M53.4,298.04V283.3 M56.8,302.13V276.3 M60.7,306.06V296.4 M64.3,307.89V301.4 M67.9,309.73V298.2 M71.3,311.32V291 M73.5,312.2V309 M78,314V303 M83,315.79V302 M85,316.45V310 M90,318.1V315 M93,319.27V315 M97,320.83V311 M101,322.21V316 M105,323.05V307.5 M107,323.47V312 M109.5,324V314 M112,324.32V311 M115.5,324.7V312.5 M117,324.87V317 M123.5,326V321 M127,326.81V322 M132.5,327.93V323 M137.5,328.77V325 M147,330.53V324 M154.5,331.73V320 M158,332.22V327 M167.5,333.33V322 M171,333.77V329 M177.5,334.88V330.5 M185,335.9V327.5 M189,336.38V328 M193,337.1V333 M196.5,337.8V333 M205,339.3V335 M219.5,341.89V322 M223,342.66V330 M225.5,343.21V327 M230,344.17V335 M232,344.6V337 M233.5,344.93V336 M236.5,345.57V340" stroke="#000" stroke-width="1.25" fill="none"/>
<path d="M52,359.37 52.5,359.92 53,359.35 53.5,358.24 54,357.89 54.5,357.78 55,357.55 55.5,356.86 56,356.57 56.5,357.22 57,357.48 57.5,358.04 58,358.76 58.5,360.25 59,360.27 59.5,360.64 60,361.55 60.5,361.49 61,361.59 61.5,361.4 62,362.32 62.5,362.39 63,362.13 63.5,362.98 64,363.37 64.5,362.84 65,363.17 65.5,363.21 66,363.38 66.5,363.9 67,364.23 67.5,364.58 68,364.47 68.5,364.64 69,364.77 69.5,365.75 70,365.86 70.5,365.16 71,366.28 71.5,366.19 72,365.8 72.5,365.98 73,366.61 73.5,366.54 74,367.32 74.5,367 75,367.22 75.5,367.48 76,368.36 76.5,367.42 77,368.16 77.5,367.96 78,368.43 78.5,368.33 79,368.58 79.5,369.47 80,369.39 80.5,369.03 81,369.35 81.5,369.81 82,370.74 82.5,370.38 83,370.53 83.5,370.77 84,370.78 84.5,371.68 85,371.39 85.5,371.71 86,372 86.5,371.73 87,372.02 87.5,372.71 88,372.84 88.5,373.28 89,373.39 89.5,373.38 90,373.35 90.5,373.63 91,373.53 91.5,373.94 92,374.24 92.5,374.24 93,373.84 93.5,374.07 94,374.05 94.5,373.71 95,374.41 95.5,374.64 96,374.64 96.5,374.22 97,374.35 97.5,374.3 98,374.72 98.5,374.79 99,374.36 99.5,374.49 100,374.68 100.5,375.32 101,374.76 101.5,375.13 102,375.79 102.5,375.68 103,375.34 103.5,376.11 104,376.07 104.5,375.52 105,375.99 105.5,376.27 106,376.72 106.5,376.4 107,376.35 107.5,376.12 108,377.18 108.5,376.26 109,376.96 109.5,376.63 110,377.03 110.5,376.64 111,376.98 111.5,376.72 112,377.46 112.5,376.95 113,377.29 113.5,377.75 114,377.76 114.5,378 115,377.94 115.5,377.55 116,377.48 116.5,377.85 117,378 117.5,378.19 118,378.57 118.5,378 119,378.66 119.5,377.72 120,378.38 120.5,378.46 121,378.18 121.5,378.48 122,378.73 122.5,378.87 123,378.88 123.5,379.31 124,378.39 124.5,379.38 125,378.53 125.5,379.03 126,378.9 126.5,379.08 127,379.43 127.5,379.46 128,380.11 128.5,379.6 129,379.73 129.5,379.7 130,379.89 130.5,379.6 131,380.11 131.5,380.55 132,380.27 132.5,380.69 133,379.84 133.5,380.6 134,380.65 134.5,380.72 135,379.94 135.5,380.27 136,380.63 136.5,381 137,380.89 137.5,380.77 138,381.04 138.5,380.7 139,380.93 139.5,380.46 140,381.22 140.5,381.33 141,380.71 141.5,381.5 142,381.12 142.5,382.06 143,381.71 143.5,381.7 144,382.09 144.5,382.36 145,381.62 145.5,381.96 146,382.5 146.5,381.71 147,382.42 147.5,381.86 148,382.74 148.5,382.19 149,382.8 149.5,382.26 150,383.03 150.5,383.06 151,383.12 151.5,382.8 152,383.48 152.5,382.83 153,383.24 153.5,383.36 154,383.08 154.5,383.35 155,384.04 155.5,383.16 156,383.33 156.5,383.73 157,384.3 157.5,384.12 158,383.98 158.5,383.91 159,384.06 159.5,384.7 160,384.07 160.5,383.85 161,385 161.5,384.56 162,384.89 162.5,384.54 163,384.61 163.5,384.21 164,385 164.5,384.39 165,384.67 165.5,384.78 166,385.19 166.5,384.8 167,384.6 167.5,384.35 168,384.78 168.5,384.85 169,385.4 169.5,385.42 170,384.89 170.5,385.22 171,384.99 171.5,385.09 172,384.61 172.5,384.75 173,384.92 173.5,384.64 174,385.59 174.5,385.43 175,384.73 175.5,385.58 176,385.66 176.5,385.57 177,385.47 177.5,385.66 178,384.97 178.5,385.82 179,385.69 179.5,385.14 180,385.81 180.5,385.39 181,386 181.5,386.08 182,385.27 182.5,385.73 183,385.83 183.5,385.42 184,386.52 184.5,385.55 185,386.59 185.5,386.19 186,386.47 186.5,386.63 187,386.5 187.5,386.73 188,386.45 188.5,386.45 189,386.83 189.5,386.18 190,386.73 190.5,387 191,386.31 191.5,387.01 192,386.21 192.5,386.47 193,387.05 193.5,386.35 194,386.65 194.5,386.89 195,386.86 195.5,387 196,387.58 196.5,387.09 197,387.75 197.5,387.19 198,386.92 198.5,387.58 199,387.73 199.5,387.82 200,387.21 200.5,387.37 201,387.08 201.5,388.03 202,388.16 202.5,387.31 203,388.1 203.5,387.61 204,387.78 204.5,388.18 205,388.38 205.5,387.87 206,387.34 206.5,388.38 207,387.75 207.5,387.98 208,387.42 208.5,387.59 209,387.83 209.5,387.65 210,388.37 210.5,387.87 211,387.84 211.5,387.93 212,388.68 212.5,388.16 213,388.76 213.5,388.05 214,387.86 214.5,387.9 215,388.07 215.5,388.4 216,388.05 216.5,388.06 217,388.62 217.5,388.35 218,388.01 218.5,388.41 219,388.08 219.5,388.98 220,388.22 220.5,388.6 221,388.61 221.5,388.14 222,388.89 222.5,388.89 223,388.27 223.5,388.95 224,389.21 224.5,389.03 225,388.74 225.5,388.48 226,389.21 226.5,389.17 227,388.47 227.5,388.63 228,388.88 228.5,389.03 229,389.76 229.5,389.82 230,389.67 230.5,388.94 231,389.48 231.5,389.21 232,389.2 232.5,389.98 233,389.92 233.5,389.59 234,389.4 234.5,390.1 235,390.11 235.5,389.18 236,389.97 236.5,390.44 237,389.93 237.5,389.73 238,389.42 238.5,389.76 238.5,397.25 238,397.1 237.5,397.7 237,396.72 236.5,396.92 236,396.95 235.5,396.55 235,397.07 234.5,397.11 234,397.2 233.5,396.95 233,396.45 232.5,396.16 232,398.06 231.5,396.45 231,396.37 230.5,396.45 230,396.54 229.5,395.87 229,396.44 228.5,396.27 228,396.06 227.5,395.66 227,396.19 226.5,395.65 226,395.72 225.5,395.85 225,395.68 224.5,396.02 224,395.51 223.5,395.29 223,395.42 222.5,395.94 222,394.97 221.5,395.38 221,394.86 220.5,395.37 220,395.51 219.5,394.98 219,394.73 218.5,394.85 218,396.27 217.5,394.66 217,394.52 216.5,394.85 216,394.99 215.5,394.78 215,394.48 214.5,394.36 214,394.58 213.5,394.07 213,394.46 212.5,394.1 212,394.43 211.5,394.6 211,393.81 210.5,394.62 210,394.11 209.5,394.27 209,394.36 208.5,394.1 208,394.71 207.5,393.66 207,394.13 206.5,393.94 206,393.78 205.5,394.12 205,394.28 204.5,394.2 204,394.81 203.5,393.66 203,393.84 202.5,393.77 202,394.01 201.5,393.7 201,394.32 200.5,394.3 200,393.32 199.5,394.51 199,394.06 198.5,393.44 198,393.52 197.5,393.69 197,393.71 196.5,393.84 196,393.7 195.5,393.95 195,393.25 194.5,393.68 194,393.22 193.5,393.29 193,393.67 192.5,393.96 192,393.42 191.5,393.67 191,393.64 190.5,393.71 190,393.28 189.5,392.98 189,393.66 188.5,393 188,393.16 187.5,393.48 187,393.55 186.5,392.65 186,392.91 185.5,392.89 185,393.13 184.5,392.76 184,392.94 183.5,393.09 183,392.28 182.5,392.08 182,392.77 181.5,392.82 181,392.82 180.5,392.71 180,392.2 179.5,392.71 179,391.68 178.5,392.41 178,392.31 177.5,392.18 177,391.56 176.5,391.75 176,391.89 175.5,392.19 175,391.73 174.5,391.24 174,391.8 173.5,392.01 173,391.61 172.5,391.8 172,391.02 171.5,391.29 171,391.31 170.5,391.53 170,391.13 169.5,390.95 169,391.18 168.5,391.43 168,391.39 167.5,390.92 167,391.28 166.5,390.83 166,391.09 165.5,391.21 165,392.07 164.5,390.72 164,390.78 163.5,391.17 163,390.88 162.5,390.94 162,390.7 161.5,390.79 161,391.14 160.5,390.33 160,390.8 159.5,390.72 159,390.99 158.5,390.72 158,390.73 157.5,390.3 157,390.76 156.5,390.66 156,390.36 155.5,390.16 155,389.72 154.5,390.22 154,389.73 153.5,390.55 153,390.2 152.5,390.03 152,389.86 151.5,390.34 151,390.05 150.5,389.65 150,389.66 149.5,389.75 149,389.28 148.5,389.23 148,389.42 147.5,389.78 147,389.67 146.5,388.91 146,388.58 145.5,388.53 145,389.27 144.5,388.29 144,388.32 143.5,388.05 143,388.77 142.5,388.48 142,388.42 141.5,387.62 141,388.21 140.5,388.3 140,387.72 139.5,387.84 139,387.87 138.5,388.07 138,387.56 137.5,387.8 137,387.79 136.5,387.35 136,387.86 135.5,387.57 135,387.54 134.5,386.77 134,387.41 133.5,386.95 133,387.39 132.5,386.77 132,386.67 131.5,386.86 131,387.14 130.5,386.63 130,387.24 129.5,386.79 129,386.26 128.5,386.18 128,386.02 127.5,386.01 127,386.21 126.5,386.39 126,385.52 125.5,385.55 125,386.31 124.5,385.52 124,385.38 123.5,385.4 123,385.72 122.5,385.16 122,385.1 121.5,385.18 121,384.91 120.5,385 120,384.61 119.5,385.27 119,384.54 118.5,385.22 118,385.18 117.5,385.12 117,384.24 116.5,384.34 116,384.43 115.5,384.31 115,384.71 114.5,383.91 114,384.67 113.5,385.65 113,384.52 112.5,384.06 112,383.69 111.5,384.48 111,384.05 110.5,383.97 110,383.55 109.5,384.2 109,383.88 108.5,383.65 108,383.73 107.5,382.83 107,382.88 106.5,382.98 106,382.9 105.5,382.75 105,382.31 104.5,382.18 104,381.91 103.5,382.15 103,382.36 102.5,382.3 102,383.04 101.5,381.5 101,381.52 100.5,381.58 100,381.47 99.5,381.03 99,380.97 98.5,381.53 98,381.08 97.5,381.36 97,380.63 96.5,380.26 96,380.61 95.5,380.5 95,379.96 94.5,380.53 94,381.42 93.5,380.58 93,379.64 92.5,379.96 92,380.37 91.5,379.6 91,379.41 90.5,379.14 90,379.88 89.5,379.67 89,379.2 88.5,379.03 88,378.46 87.5,378.36 87,378.48 86.5,378.92 86,378.85 85.5,378.36 85,378.54 84.5,377.53 84,378.13 83.5,379.37 83,377.9 82.5,377.87 82,377.14 81.5,376.81 81,377.24 80.5,376.53 80,376.9 79.5,376.22 79,376.43 78.5,376.33 78,375.82 77.5,376.89 77,375.5 76.5,376.07 76,376.79 75.5,374.98 75,374.86 74.5,374.82 74,374.79 73.5,374.84 73,374.62 72.5,374.13 72,374 71.5,374.55 71,374.15 70.5,373.72 70,373.62 69.5,374.2 69,373.49 68.5,373.23 68,374.41 67.5,373.33 67,373.11 66.5,373.2 66,372.54 65.5,372.79 65,371.75 64.5,372.18 64,371.4 63.5,371.52 63,371.19 62.5,371.25 62,371.61 61.5,370.87 61,370.87 60.5,370.71 60,370.58 59.5,370.72 59,370.12 58.5,371.32 58,369.87 57.5,369.65 57,369.11 56.5,369.21 56,369.36 55.5,368.78 55,368.31 54.5,367.85 54,368.29 53.5,367.72 53,368.09 52.5,367.12 52,368.44Z" fill="#0000ff"/>
<path d="M52.5,361.14V358.61 M53.5,360.39V357.27 M55.5,358.88V356.06 M56.5,359.06V355.81 M64.5,364.8V356.41 M69.5,366.8V364.55 M71.5,367.6V365.48 M75.5,369.2V359.57 M77.5,370V365.98 M78.5,370.4V367.76 M81.5,371.6V365.68 M83.5,372.4V364.94 M84.5,372.8V369.87 M85.5,373.2V370.73 M86.5,373.6V369.62 M90.5,375.07V372.9 M91.5,375.23V369.18 M102.5,377.05V372.7 M108.5,378.37V370.12 M115.5,379.31V375.93 M123.5,380.39V377.22 M124.5,380.56V374.98 M126.5,380.91V373.45 M128.5,381.25V379 M129.5,381.42V378.73 M130.5,381.56V376.63 M131.5,381.68V378.32 M134.5,382.04V378.59 M138.5,382.52V377.78 M142.5,383.1V381.1 M147.5,383.9V381.36 M148.5,384.06V380.7 M150.5,384.38V378.32 M152.5,384.73V381.27 M153.5,384.89V380.48 M155.5,385.24V374.85 M156.5,385.41V382.36 M158.5,385.75V383.65 M161.5,386.07V383.62 M162.5,386.12V383.62 M163.5,386.18V381.65 M166.5,386.32V382.4 M170.5,386.53V381.05 M178.5,387.01V383.03 M180.5,387.16V382.49 M181.5,387.27V382.79 M193.5,388.48V386.37 M194.5,388.56V384.65 M196.5,388.72V381.52 M199.5,388.96V377.96 M201.5,389.12V384.78 M202.5,389.2V384.68 M204.5,389.36V386.66 M205.5,389.42V386.9 M214.5,389.88V383.72 M215.5,389.93V387.01 M216.5,389.99V386 M217.5,390.05V385.81 M218.5,390.11V385.43 M220.5,390.23V387.87 M222.5,390.35V387.38 M235.5,391.36V388.95 M237.5,391.52V389.27 M55,359.26V345 M64.5,364.8V363 M68,366.2V364 M70.5,367.2V364 M75,369V362 M78,370.2V366 M80.5,371.2V369 M88,374.2V372 M99.5,376.43V360.5 M103,377.16V370 M107,378.04V374 M118.5,379.63V374.5 M124.5,380.56V375 M129,381.33V378 M133.5,381.92V376 M146,383.66V380 M155,385.15V378 M174,386.74V378 M178,386.98V380 M183,387.43V378 M189,388.09V381 M192.5,388.4V382 M197.5,388.8V384 M226.5,390.62V385 M232,391.07V388" stroke="#0000ff" stroke-width="1.25" fill="none"/>
<line x1="51.5" y1="277" x2="51.5" y2="402.65" stroke="#000" stroke-width="1.5" stroke-linecap="butt"/>
<line x1="50.75" y1="401.9" x2="239.35" y2="401.9" stroke="#000" stroke-width="1.5" stroke-linecap="butt"/>
<line x1="46.5" y1="401.9" x2="51.5" y2="401.9" stroke="#000" stroke-width="1.5" stroke-linecap="butt"/>
<text transform="translate(45,405.6) scale(0.99,1)" font-size="9.5" text-anchor="end" font-weight="bold" fill="#000" stroke="#000" stroke-width="0.2">240</text>
<line x1="46.5" y1="381.08" x2="51.5" y2="381.08" stroke="#000" stroke-width="1.5" stroke-linecap="butt"/>
<text transform="translate(45,384.78) scale(0.99,1)" font-size="9.5" text-anchor="end" font-weight="bold" fill="#000" stroke="#000" stroke-width="0.2">250</text>
<line x1="46.5" y1="360.27" x2="51.5" y2="360.27" stroke="#000" stroke-width="1.5" stroke-linecap="butt"/>
<text transform="translate(45,363.97) scale(0.99,1)" font-size="9.5" text-anchor="end" font-weight="bold" fill="#000" stroke="#000" stroke-width="0.2">260</text>
<line x1="46.5" y1="339.45" x2="51.5" y2="339.45" stroke="#000" stroke-width="1.5" stroke-linecap="butt"/>
<text transform="translate(45,343.15) scale(0.99,1)" font-size="9.5" text-anchor="end" font-weight="bold" fill="#000" stroke="#000" stroke-width="0.2">270</text>
<line x1="46.5" y1="318.63" x2="51.5" y2="318.63" stroke="#000" stroke-width="1.5" stroke-linecap="butt"/>
<text transform="translate(45,322.33) scale(0.99,1)" font-size="9.5" text-anchor="end" font-weight="bold" fill="#000" stroke="#000" stroke-width="0.2">280</text>
<line x1="46.5" y1="297.82" x2="51.5" y2="297.82" stroke="#000" stroke-width="1.5" stroke-linecap="butt"/>
<text transform="translate(45,301.52) scale(0.99,1)" font-size="9.5" text-anchor="end" font-weight="bold" fill="#000" stroke="#000" stroke-width="0.2">290</text>
<line x1="46.5" y1="277" x2="51.5" y2="277" stroke="#000" stroke-width="1.5" stroke-linecap="butt"/>
<text transform="translate(45,280.7) scale(0.99,1)" font-size="9.5" text-anchor="end" font-weight="bold" fill="#000" stroke="#000" stroke-width="0.2">300</text>
<line x1="51.5" y1="401.9" x2="51.5" y2="406.9" stroke="#000" stroke-width="1.5" stroke-linecap="butt"/>
<text transform="translate(52.4,413.7) rotate(-45)" font-size="9.1" text-anchor="end" font-weight="bold" stroke="#000" stroke-width="0.25" dominant-baseline="central">0</text>
<line x1="88.92" y1="401.9" x2="88.92" y2="406.9" stroke="#000" stroke-width="1.5" stroke-linecap="butt"/>
<text transform="translate(89.82,413.7) rotate(-45)" font-size="9.1" text-anchor="end" font-weight="bold" stroke="#000" stroke-width="0.25" dominant-baseline="central">3</text>
<line x1="126.34" y1="401.9" x2="126.34" y2="406.9" stroke="#000" stroke-width="1.5" stroke-linecap="butt"/>
<text transform="translate(127.24,413.7) rotate(-45)" font-size="9.1" text-anchor="end" font-weight="bold" stroke="#000" stroke-width="0.25" dominant-baseline="central">6</text>
<line x1="163.76" y1="401.9" x2="163.76" y2="406.9" stroke="#000" stroke-width="1.5" stroke-linecap="butt"/>
<text transform="translate(164.66,413.7) rotate(-45)" font-size="9.1" text-anchor="end" font-weight="bold" stroke="#000" stroke-width="0.25" dominant-baseline="central">9</text>
<line x1="201.18" y1="401.9" x2="201.18" y2="406.9" stroke="#000" stroke-width="1.5" stroke-linecap="butt"/>
<text transform="translate(202.08,413.7) rotate(-45)" font-size="9.1" text-anchor="end" font-weight="bold" stroke="#000" stroke-width="0.25" dominant-baseline="central">12</text>
<line x1="238.6" y1="401.9" x2="238.6" y2="406.9" stroke="#000" stroke-width="1.5" stroke-linecap="butt"/>
<text transform="translate(239.5,413.7) rotate(-45)" font-size="9.1" text-anchor="end" font-weight="bold" stroke="#000" stroke-width="0.25" dominant-baseline="central">15</text>
<text x="145.55" y="430.4" font-size="10.3" text-anchor="middle" font-weight="bold" fill="#000" stroke="#000" stroke-width="0.25" >Time (min)</text>
<text transform="translate(11,339.2) rotate(-90)" font-size="10.3" text-anchor="middle" font-weight="bold" fill="#000" stroke="#000" stroke-width="0.25">Fluorescence - 465 nm</text>
<text transform="translate(22.9,339.2) rotate(-90)" font-size="10.3" text-anchor="middle" font-weight="bold" fill="#000" stroke="#000" stroke-width="0.25">(arbitrary units)</text>
<path d="M150.1,32.13 150.32,32.98 150.54,32.43 150.76,32.64 150.99,32.47 151.21,33.61 151.43,33.34 151.65,33.08 151.87,32.39 152.09,34.26 152.32,32.64 152.54,33.01 152.76,32.68 152.98,33.51 153.2,34.34 153.42,33.03 153.65,34.1 153.87,32.33 154.09,34.19 154.31,32.77 154.53,33.9 154.75,33.71 154.98,32.4 155.2,33.06 155.42,33.76 155.64,34.46 155.86,34.54 156.08,33.03 156.31,33.74 156.53,33.86 156.75,32.81 156.97,33.72 157.19,33.25 157.41,35.77 157.64,36.69 157.86,36.24 158.08,36.95 158.3,37.94 158.52,37.66 158.74,37.67 158.97,37.71 159.19,38.4 159.41,37.18 159.63,36.25 159.85,36.54 160.07,34.84 160.3,34.81 160.52,36.04 160.74,36.22 160.96,36.23 161.18,35.33 161.4,35.4 161.63,34.98 161.85,34.88 162.07,34.73 162.29,35.08 162.51,36.45 162.73,35.06 162.96,36.2 163.18,36.58 163.4,35.85 163.62,35.73 163.84,35.75 164.06,35.01 164.29,36.39 164.51,36.29 164.73,35.15 164.95,35.06 165.17,35.14 165.39,35.55 165.62,36.49 165.84,35.5 166.06,36.63 166.28,35.13 166.5,37.07 166.72,35.59 166.94,35.99 167.17,37.03 167.39,35.71 167.61,36.08 167.83,36.18 168.05,35.56 168.27,36.83 168.5,36.6 168.72,36.15 168.94,35.66 169.16,36.29 169.38,35.69 169.6,36.56 169.83,36.43 170.05,37.08 170.27,37.56 170.49,37.23 170.71,37.13 170.93,36.2 171.16,36.44 171.38,37.27 171.6,37.6 171.82,38.05 172.04,37.06 172.26,37.47 172.49,37.2 172.71,36.87 172.93,36.49 173.15,37.94 173.37,38.64 173.59,36.65 173.82,37.64 174.04,36.92 174.26,37.34 174.48,37.6 174.7,37.71 174.92,36.84 175.15,37.79 175.37,37.9 175.59,38.85 175.81,38.5 176.03,37.3 176.25,38.84 176.48,38.23 176.7,37.71 176.92,37.95 177.14,38.56 177.36,37.17 177.58,38.1 177.81,38.93 178.03,39.17 178.25,39.19 178.47,38.44 178.69,38.24 178.91,38.56 179.14,39.21 179.36,38.16 179.58,38.1 179.8,38.3 180.02,38 180.24,38.9 180.47,37.87 180.69,38.05 180.91,37.88 181.13,37.77 181.35,38.15 181.57,38.54 181.79,37.82 182.02,38.83 182.24,38.44 182.46,38.76 182.68,39.04 182.9,39.61 183.12,39.48 183.35,39.36 183.57,39.7 183.79,39.07 184.01,39.57 184.23,39.11 184.45,39.24 184.68,39.84 184.9,38.56 185.12,39.36 185.34,40.16 185.56,39.21 185.78,39.97 186.01,39.07 186.23,39.1 186.45,40.03 186.67,38.97 186.89,39.94 187.11,39.25 187.34,38.58 187.56,40.07 187.78,39.75 188,39.51 188.22,40.11 188.44,38.4 188.67,39.66 188.89,38.64 189.11,40.07 189.33,39.07 189.55,38.48 189.77,38.99 190,39 190.22,38.51 190.44,39.51 190.66,38.48 190.88,38.73 191.1,40.32 191.33,40.42 191.55,39.01 191.77,39.81 191.99,39.28 192.21,40.08 192.43,38.88 192.66,38.57 192.88,40.58 193.1,38.89 193.32,40.01 193.54,40.61 193.76,39.69 193.99,38.98 194.21,39.45 194.43,40.08 194.65,40.78 194.87,39.72 195.09,39.53 195.32,39.96 195.54,38.81 195.76,39.46 195.98,40.82 196.2,38.91 196.42,40.04 196.65,40.46 196.87,39.97 197.09,38.82 197.31,40.28 197.53,40.85 197.75,40.92 197.97,39.79 198.2,40.12 198.42,40.31 198.64,39.09 198.86,40.14 199.08,38.9 199.3,40.36 199.53,39.06 199.75,39.72 199.97,40.08 200.19,40.96 200.41,40.36 200.63,40.93 200.86,39.63 201.08,40.22 201.3,40.83 201.52,39.46 201.74,40.38 201.96,39.58 202.19,39.48 202.41,40.6 202.63,40.85 202.85,40.19 203.07,39.21 203.29,39.15 203.52,39.26 203.74,40.8 203.96,39.24 204.18,40.78 204.4,39.1 204.62,39.95 204.85,40.19 205.07,39.5 205.29,40.53 205.51,40.17 205.73,40.82 205.95,40.86 206.18,40.37 206.4,39.54 206.62,41.08 206.84,40.39 207.06,40.59 207.28,40.37 207.51,39.64 207.73,40.84 207.95,40.43 208.17,39.88 208.39,39.23 208.61,41.13 208.84,39.69 209.06,40.79 209.28,39.95 209.5,39.59 209.72,39.22 209.94,40.67 210.17,39.84 210.39,40.78 210.61,39.92 210.83,40.62 211.05,39.95 211.27,39.82 211.5,41.02 211.72,41.05 211.94,40.87 212.16,39.39 212.38,40.09 212.6,40.06 212.83,39.9 213.05,40.3 213.27,40.74 213.49,40.6 213.71,40.34 213.93,39.55 214.15,40.07 214.38,40.23 214.6,41.01 214.82,40.97 215.04,39.63 215.26,40.13 215.48,41.01 215.71,40.82 215.93,41.32 216.15,41.32 216.37,40 216.59,39.94 216.81,40.78 217.04,40.6 217.26,39.92 217.48,40.76 217.7,41.57 217.92,41.74 218.14,40.15 218.37,39.64 218.59,40.33 218.81,41.47 219.03,40.75 219.25,41.06 219.47,40.09 219.7,39.71 219.92,41.08 220.14,40.65 220.36,40.93 220.58,40.92 220.8,41.04 221.03,39.9 221.25,41.26 221.47,41.76 221.69,41.37 221.91,40 222.13,39.84 222.36,41.5 222.58,39.91 222.8,41.95 223.02,40.49 223.24,40.64 223.46,41.29 223.69,40.9 223.91,41.53 224.13,41.71 224.35,40.48 224.57,41.86 224.79,40.21 225.02,41.01 225.24,40.47 225.46,41.61 225.68,40.58 225.9,40.52 226.12,41.93 226.35,40.1 226.57,40.14 226.79,40.79 227.01,41.79 227.23,41.66 227.45,41.61 227.68,40.83 227.9,41.98 228.12,40.92 228.34,40.47 228.56,40.67 228.78,41.18 229.01,40.45 229.23,41.8 229.45,40.43 229.67,41.51 229.89,40.18 230.11,40.99 230.33,41.57 230.56,40.96 230.78,40.3 231,42.18 231.22,40.99 231.44,42.42 231.66,42.12 231.89,42.37 232.11,42.4 232.33,41.78 232.55,41.56 232.77,41.76 232.99,41.72 233.22,42.43 233.44,41.11 233.66,40.74 233.88,42.5 234.1,41.39 234.32,42.12 234.55,41.29 234.77,40.91 234.99,41.76 235.21,40.7 235.43,41.09 235.65,40.98 235.88,41.19 236.1,42.26 236.32,42.43 236.54,42.35 236.76,41.55 236.98,41.26 237.21,41.77 237.43,40.69 237.65,41.19 237.87,42.5 238.09,41.36 238.31,42.66 238.54,42.34 238.76,42.14 238.98,41.06 239.2,41.39 239.42,42.05 239.64,41.75 239.87,40.83 240.09,41.89 240.31,40.65 240.53,41.99 240.75,42.67 240.97,42.21 241.2,41.92 241.42,41.52 241.64,42.76 241.86,41.85 242.08,42.57 242.3,42.38 242.53,41.56 242.75,41.32 242.97,41.09 243.19,42.86 243.41,42.57 243.63,42.77 243.86,41.64 244.08,41.44 244.3,41.98 244.52,42.84 244.74,42.07 244.96,42.94 245.18,42.33 245.41,41.6 245.63,41.31 245.85,42.04 246.07,41.25 246.29,41.56 246.51,41.82 246.74,41.53 246.96,43 247.18,42.18 247.4,41.17 247.62,41.17 247.84,41.47 248.07,42.81 248.29,41.58 248.51,42.96 248.73,43.04 248.95,42.1 249.17,42.48 249.4,41.17 249.62,41.14 249.84,42.01 250.06,41.01 250.28,43.07 250.5,43.12 250.73,41.21 250.95,42.5 251.17,41.87 251.39,40.98 251.61,41.33 251.83,41.73 252.06,42.97 252.28,41.95 252.5,41.96 252.72,41.78 252.94,43.03 253.16,41.09 253.39,42.58 253.61,42.67 253.83,41.16 254.05,41.6 254.27,41.49 254.49,42.95 254.72,42.5 254.94,41.66 255.16,43.19 255.38,42.77 255.6,41.15 255.82,41.35 256.05,41.81 256.27,41.51 256.49,42.06 256.71,41.89 256.93,41.83 257.15,42.04 257.38,43.12 257.6,41.63 257.82,41.53 258.04,41.24 258.26,43.25 258.48,41.98 258.71,41.62 258.93,41.41 259.15,41.6 259.37,41.5 259.59,41.69 259.81,41.31 260.04,43.28 260.26,41.32 260.48,41.97 260.7,41.59" fill="none" stroke="#6e6e6e" stroke-width="1.45" stroke-linejoin="miter"/>
<path d="M150.1,39.21 150.32,39.79 150.54,40.3 150.76,39.39 150.99,41.22 151.21,41.51 151.43,40.18 151.65,41.14 151.87,39.4 152.09,41.44 152.32,41.75 152.54,39.7 152.76,41.9 152.98,39.98 153.2,39.76 153.42,40.53 153.65,40.47 153.87,40.18 154.09,41.59 154.31,41.24 154.53,41.32 154.75,40.74 154.98,40.96 155.2,41.06 155.42,41.23 155.64,41.2 155.86,40.39 156.08,41.81 156.31,40.99 156.53,40.77 156.75,40.37 156.97,42.05 157.19,41.62 157.41,42.55 157.64,41.79 157.86,41.11 158.08,42.35 158.3,42.7 158.52,42.15 158.74,42.3 158.97,41.39 159.19,40.9 159.41,42.3 159.63,42.8 159.85,43.29 160.07,42.11 160.3,41.81 160.52,41.96 160.74,42.83 160.96,41.65 161.18,42.58 161.4,43.39 161.63,43.22 161.85,43.6 162.07,41.33 162.29,43.08 162.51,43.22 162.73,41.69 162.96,43.74 163.18,42.04 163.4,42.6 163.62,41.57 163.84,42.2 164.06,41.93 164.29,43.78 164.51,44.02 164.73,43.53 164.95,43.17 165.17,43 165.39,42.27 165.62,44.21 165.84,42.66 166.06,43.15 166.28,44.33 166.5,42.87 166.72,43.26 166.94,42.49 167.17,43.84 167.39,43.04 167.61,43.69 167.83,42.51 168.05,42.73 168.27,42.48 168.5,42.83 168.72,43.11 168.94,44.32 169.16,42.77 169.38,43.58 169.6,42.77 169.83,44.33 170.05,43.15 170.27,43.29 170.49,44.26 170.71,43.72 170.93,44.56 171.16,42.92 171.38,44.66 171.6,44.14 171.82,45.17 172.04,44.1 172.26,44.01 172.49,45.06 172.71,43.89 172.93,45.05 173.15,45.19 173.37,43.3 173.59,44.53 173.82,44.88 174.04,44.59 174.26,44.57 174.48,44.53 174.7,43.43 174.92,45.31 175.15,45.14 175.37,45.52 175.59,45.91 175.81,46.08 176.03,45.95 176.25,45.72 176.48,47.91 176.7,47.75 176.92,46.69 177.14,45.92 177.36,48.13 177.58,46.15 177.81,46.83 178.03,48.15 178.25,47.31 178.47,47.13 178.69,46.09 178.91,47.57 179.14,46.11 179.36,47.88 179.58,46.18 179.8,47.46 180.02,46.85 180.24,46.21 180.47,47.71 180.69,46.37 180.91,46.41 181.13,47.69 181.35,47.28 181.57,47.18 181.79,47.02 182.02,46.03 182.24,46.95 182.46,47 182.68,46.14 182.9,48.3 183.12,47.09 183.35,48.29 183.57,48.32 183.79,48.31 184.01,46.83 184.23,47.23 184.45,46.72 184.68,46.28 184.9,46.72 185.12,46.24 185.34,47.06 185.56,46.62 185.78,46.22 186.01,46.11 186.23,46.25 186.45,46.28 186.67,46.31 186.89,46.57 187.11,47.62 187.34,46.6 187.56,48.18 187.78,48.38 188,47.14 188.22,46.57 188.44,47.1 188.67,46.58 188.89,47.85 189.11,47.57 189.33,46.45 189.55,47.55 189.77,47.99 190,46.46 190.22,46.13 190.44,46.31 190.66,48.13 190.88,46.34 191.1,47.83 191.33,47.22 191.55,47.96 191.77,46.12 191.99,47.39 192.21,47.53 192.43,47.26 192.66,47.45 192.88,48 193.1,47.98 193.32,47.11 193.54,46.84 193.76,47.19 193.99,46.81 194.21,47.03 194.43,46.27 194.65,48.27 194.87,47.44 195.09,47.02 195.32,47.6 195.54,46.81 195.76,47.4 195.98,46.72 196.2,47.78 196.42,48.02 196.65,47.95 196.87,48.4 197.09,46.66 197.31,46.75 197.53,48.02 197.75,46.85 197.97,48.05 198.2,48.56 198.42,48.59 198.64,47.7 198.86,47.4 199.08,47.96 199.3,47.22 199.53,48.33 199.75,48.74 199.97,47.8 200.19,48.59 200.41,47.42 200.63,47.47 200.86,47.3 201.08,47.57 201.3,47.86 201.52,47.25 201.74,48.82 201.96,48.73 202.19,47.19 202.41,49.14 202.63,48.7 202.85,48.73 203.07,48.47 203.29,47.98 203.52,47.49 203.74,47.76 203.96,47.86 204.18,48.54 204.4,48.05 204.62,49.1 204.85,47.56 205.07,47.63 205.29,47.85 205.51,47.24 205.73,48.22 205.95,49.43 206.18,48.36 206.4,48.72 206.62,48.68 206.84,49.11 207.06,49.25 207.28,49.72 207.51,49.15 207.73,49.7 207.95,48.33 208.17,47.87 208.39,48.67 208.61,49.06 208.84,48.91 209.06,48.7 209.28,48.45 209.5,48.91 209.72,48.05 209.94,49.2 210.17,47.58 210.39,48.56 210.61,48.79 210.83,48.97 211.05,48.79 211.27,49.84 211.5,48.08 211.72,49.53 211.94,47.94 212.16,49.15 212.38,48.93 212.6,49.31 212.83,48.46 213.05,48.2 213.27,49.17 213.49,48.65 213.71,47.9 213.93,49.77 214.15,48.25 214.38,49.87 214.6,48.93 214.82,48.24 215.04,49.63 215.26,49.97 215.48,48.18 215.71,48.55 215.93,48.71 216.15,49.32 216.37,49.27 216.59,48.28 216.81,49.57 217.04,49.85 217.26,49.93 217.48,48.46 217.7,49.08 217.92,50.03 218.14,48.05 218.37,49.39 218.59,49.61 218.81,49.95 219.03,48.39 219.25,48.15 219.47,49.86 219.7,48.65 219.92,49.04 220.14,48.15 220.36,48.37 220.58,48.68 220.8,48.26 221.03,48.76 221.25,49.88 221.47,49.98 221.69,50.38 221.91,49.75 222.13,48.22 222.36,49.42 222.58,48.86 222.8,49.63 223.02,50.24 223.24,49.16 223.46,48.78 223.69,49.47 223.91,48.61 224.13,48.97 224.35,48.35 224.57,49.81 224.79,48.59 225.02,49.31 225.24,50.53 225.46,49.81 225.68,49.06 225.9,49.87 226.12,48.8 226.35,50.25 226.57,50.32 226.79,49.54 227.01,50.12 227.23,49.33 227.45,50.05 227.68,49.23 227.9,49.28 228.12,48.51 228.34,50.22 228.56,48.5 228.78,50.02 229.01,48.98 229.23,50.44 229.45,50.12 229.67,49.9 229.89,49.44 230.11,49.39 230.33,50.47 230.56,48.62 230.78,50.54 231,49.07 231.22,49.56 231.44,50.06 231.66,50.47 231.89,49.94 232.11,49.21 232.33,49.15 232.55,50.73 232.77,50.43 232.99,50.63 233.22,50.19 233.44,50.16 233.66,50.2 233.88,49.62 234.1,49.99 234.32,49.96 234.55,50.71 234.77,49.91 234.99,50 235.21,49.94 235.43,50.04 235.65,49.77 235.88,49.04 236.1,50.34 236.32,51.06 236.54,49.62 236.76,51.16 236.98,51.21 237.21,50.76 237.43,49.58 237.65,49.99 237.87,49.88 238.09,50.56 238.31,50.15 238.54,50.37 238.76,49.87 238.98,50.08 239.2,49.91 239.42,49.82 239.64,50.73 239.87,50.77 240.09,49.58 240.31,49.06 240.53,50.87 240.75,49.07 240.97,49.61 241.2,51.21 241.42,51.42 241.64,51.23 241.86,51.43 242.08,50.04 242.3,50.47 242.53,51.54 242.75,51.33 242.97,51.23 243.19,51.56 243.41,49.7 243.63,49.5 243.86,50.8 244.08,51.48 244.3,51.42 244.52,49.85 244.74,49.27 244.96,50.05 245.18,51.41 245.41,50.72 245.63,51.52 245.85,50.28 246.07,51.1 246.29,51.18 246.51,51.44 246.74,50.58 246.96,50.06 247.18,50.17 247.4,49.59 247.62,51.32 247.84,49.4 248.07,49.99 248.29,50.17 248.51,49.73 248.73,51.02 248.95,50.3 249.17,51.42 249.4,50.61 249.62,49.66 249.84,50.34 250.06,50.52 250.28,50.46 250.5,51.02 250.73,51.85 250.95,50.29 251.17,49.88 251.39,51.62 251.61,51.34 251.83,49.61 252.06,50.36 252.28,50.21 252.5,51.32 252.72,50.34 252.94,49.71 253.16,51.21 253.39,49.75 253.61,50 253.83,51.48 254.05,51.52 254.27,51.42 254.49,51.14 254.72,51.17 254.94,50.98 255.16,51.52 255.38,51.96 255.6,50.31 255.82,51.46 256.05,50.07 256.27,51.68 256.49,51.17 256.71,50.71 256.93,51.79 257.15,50.29 257.38,52.16 257.6,51.17 257.82,51.74 258.04,51.73 258.26,50.17 258.48,52.07 258.71,51.98 258.93,51.2 259.15,51.25 259.37,51.33 259.59,52.14 259.81,51.02 260.04,52.05 260.26,51.39 260.48,51.98 260.7,51.1" fill="none" stroke="#86b4f4" stroke-width="1.45" stroke-linejoin="miter"/>
<line x1="149.6" y1="3" x2="149.6" y2="77.5" stroke="#4a4a4a" stroke-width="1.1" stroke-linecap="butt"/>
<line x1="149.1" y1="77" x2="261.2" y2="77" stroke="#6a6a6a" stroke-width="1.4" stroke-linecap="butt"/>
<line x1="147.1" y1="77" x2="149.6" y2="77" stroke="#222" stroke-width="1" stroke-linecap="butt"/>
<text x="146.6" y="79" font-size="5.7" text-anchor="end" font-weight="bold" fill="#000" stroke="#000" stroke-width="0.25" >100</text>
<line x1="147.1" y1="62.2" x2="149.6" y2="62.2" stroke="#222" stroke-width="1" stroke-linecap="butt"/>
<text x="146.6" y="64.2" font-size="5.7" text-anchor="end" font-weight="bold" fill="#000" stroke="#000" stroke-width="0.25" >110</text>
<line x1="147.1" y1="47.4" x2="149.6" y2="47.4" stroke="#222" stroke-width="1" stroke-linecap="butt"/>
<text x="146.6" y="49.4" font-size="5.7" text-anchor="end" font-weight="bold" fill="#000" stroke="#000" stroke-width="0.25" >120</text>
<line x1="147.1" y1="32.6" x2="149.6" y2="32.6" stroke="#222" stroke-width="1" stroke-linecap="butt"/>
<text x="146.6" y="34.6" font-size="5.7" text-anchor="end" font-weight="bold" fill="#000" stroke="#000" stroke-width="0.25" >130</text>
<line x1="147.1" y1="17.8" x2="149.6" y2="17.8" stroke="#222" stroke-width="1" stroke-linecap="butt"/>
<text x="146.6" y="19.8" font-size="5.7" text-anchor="end" font-weight="bold" fill="#000" stroke="#000" stroke-width="0.25" >140</text>
<line x1="147.1" y1="3" x2="149.6" y2="3" stroke="#222" stroke-width="1" stroke-linecap="butt"/>
<text x="146.6" y="5" font-size="5.7" text-anchor="end" font-weight="bold" fill="#000" stroke="#000" stroke-width="0.25" >150</text>
<line x1="149.6" y1="77" x2="149.6" y2="79.5" stroke="#222" stroke-width="1" stroke-linecap="butt"/>
<text transform="translate(150.7,83.6) rotate(-45)" font-size="5.8" text-anchor="end" font-weight="bold" fill="#000" stroke="#000" stroke-width="0.15" dominant-baseline="central">0</text>
<line x1="171.82" y1="77" x2="171.82" y2="79.5" stroke="#222" stroke-width="1" stroke-linecap="butt"/>
<text transform="translate(172.92,83.6) rotate(-45)" font-size="5.8" text-anchor="end" font-weight="bold" fill="#000" stroke="#000" stroke-width="0.15" dominant-baseline="central">3</text>
<line x1="194.04" y1="77" x2="194.04" y2="79.5" stroke="#222" stroke-width="1" stroke-linecap="butt"/>
<text transform="translate(195.14,83.6) rotate(-45)" font-size="5.8" text-anchor="end" font-weight="bold" fill="#000" stroke="#000" stroke-width="0.15" dominant-baseline="central">6</text>
<line x1="216.26" y1="77" x2="216.26" y2="79.5" stroke="#222" stroke-width="1" stroke-linecap="butt"/>
<text transform="translate(217.36,83.6) rotate(-45)" font-size="5.8" text-anchor="end" font-weight="bold" fill="#000" stroke="#000" stroke-width="0.15" dominant-baseline="central">9</text>
<line x1="238.48" y1="77" x2="238.48" y2="79.5" stroke="#222" stroke-width="1" stroke-linecap="butt"/>
<text transform="translate(239.58,83.6) rotate(-45)" font-size="5.8" text-anchor="end" font-weight="bold" fill="#000" stroke="#000" stroke-width="0.15" dominant-baseline="central">12</text>
<line x1="260.7" y1="77" x2="260.7" y2="79.5" stroke="#222" stroke-width="1" stroke-linecap="butt"/>
<text transform="translate(261.8,83.6) rotate(-45)" font-size="5.8" text-anchor="end" font-weight="bold" fill="#000" stroke="#000" stroke-width="0.15" dominant-baseline="central">15</text>
<text x="205.55" y="94.3" font-size="6.1" text-anchor="middle" font-weight="bold" fill="#000" stroke="#000" stroke-width="0.25" >Time (min)</text>
<text transform="translate(125.5,39.7) rotate(-90)" font-size="6.45" text-anchor="middle" font-weight="normal" fill="#000" stroke="#000" stroke-width="0.25">Fluorescence - 405 nm</text>
<text transform="translate(132.3,39.7) rotate(-90)" font-size="6.6" text-anchor="middle" font-weight="normal" fill="#000" stroke="#000" stroke-width="0.25">(arbitrary units)</text>
<path d="M150.5,258.84 150.72,258.43 150.94,259.4 151.16,259.41 151.38,259.87 151.6,260.04 151.82,260.24 152.04,258.8 152.26,260.11 152.48,260.02 152.7,258.78 152.92,258.79 153.14,260.63 153.36,260.44 153.58,259.18 153.8,259.25 154.02,260.55 154.24,259.22 154.46,260.53 154.68,259.63 154.9,261.16 155.12,259.68 155.34,260.32 155.56,260.58 155.78,259.6 156,260.63 156.22,260.62 156.44,260.94 156.66,261.26 156.88,260.19 157.1,260.03 157.32,261.93 157.54,260.32 157.76,260.42 157.98,261.65 158.2,261.61 158.42,262.2 158.64,260.93 158.86,262.08 159.08,261.43 159.3,262.72 159.52,261.12 159.74,261.33 159.96,261.51 160.18,261.66 160.4,262.5 160.62,261.35 160.84,260.97 161.06,262.39 161.28,261.48 161.5,261.32 161.72,261.51 161.94,261.29 162.16,262.38 162.38,262.3 162.6,263.25 162.82,262.95 163.04,262.46 163.26,262.6 163.48,262.65 163.7,262.85 163.92,261.43 164.14,262.61 164.36,262.82 164.58,263.34 164.8,261.71 165.02,262.75 165.24,263.34 165.46,262.75 165.68,263.24 165.9,262.03 166.12,262.84 166.34,261.96 166.56,261.75 166.78,263.68 167,261.76 167.22,263.24 167.44,261.75 167.66,262.15 167.88,262.46 168.1,262.15 168.32,262.29 168.54,262.96 168.76,263.29 168.98,261.94 169.2,262.5 169.42,263.62 169.64,262.81 169.86,263.14 170.08,263.54 170.3,263.33 170.52,262.56 170.74,263.27 170.96,264.04 171.18,263.3 171.4,262.63 171.62,262.6 171.84,264.72 172.06,264.23 172.28,264.39 172.5,263.52 172.72,264.66 172.94,263.17 173.16,264.74 173.38,264.93 173.6,264.85 173.82,265.06 174.04,265.06 174.26,265.17 174.48,265.38 174.7,265.19 174.92,264.14 175.14,265.42 175.36,264.67 175.58,264.63 175.8,265.13 176.02,264.29 176.24,265.74 176.46,265.6 176.68,265.02 176.9,265.4 177.12,264.55 177.34,264.65 177.56,266.09 177.78,265.34 178.01,266.31 178.23,265.58 178.45,266.5 178.67,267.34 178.89,267.86 179.11,267.39 179.33,268.29 179.55,267.47 179.77,266.74 179.99,268.13 180.21,266.83 180.43,266.52 180.65,265.38 180.87,265.8 181.09,265.29 181.31,265.34 181.53,265.73 181.75,263.67 181.97,264.92 182.19,264.66 182.41,263.82 182.63,265.15 182.85,265.86 183.07,265.77 183.29,264.75 183.51,264.76 183.73,266.01 183.95,265.17 184.17,265.57 184.39,264.51 184.61,264.73 184.83,265.26 185.05,265.37 185.27,266.08 185.49,266.06 185.71,266.07 185.93,266.48 186.15,266.58 186.37,265.23 186.59,265.58 186.81,265.75 187.03,266.29 187.25,264.81 187.47,265.45 187.69,265.01 187.91,266.81 188.13,265.18 188.35,266 188.57,265.33 188.79,266.01 189.01,265.69 189.23,265.73 189.45,266.68 189.67,265.25 189.89,265.72 190.11,267.01 190.33,266.95 190.55,265.69 190.77,265.47 190.99,265.83 191.21,266.03 191.43,266.46 191.65,266.52 191.87,266.87 192.09,267.47 192.31,266.58 192.53,265.72 192.75,266.43 192.97,267.67 193.19,266.58 193.41,266.54 193.63,267.8 193.85,267.28 194.07,266.39 194.29,266.74 194.51,266.49 194.73,266.26 194.95,267.28 195.17,266.65 195.39,266.85 195.61,267.03 195.83,267.07 196.05,268.13 196.27,267.08 196.49,267.83 196.71,267.23 196.93,266.41 197.15,266.36 197.37,268.04 197.59,267.68 197.81,267.15 198.03,267.13 198.25,267.24 198.47,266.61 198.69,266.54 198.91,267.41 199.13,268.11 199.35,266.61 199.57,268.22 199.79,268.85 200.01,267.57 200.23,266.95 200.45,267.04 200.67,268.11 200.89,267.19 201.11,268.89 201.33,268.52 201.55,268.56 201.77,269.03 201.99,266.94 202.21,267.09 202.43,268.99 202.65,268.88 202.87,268.79 203.09,269.08 203.31,267.55 203.53,267.06 203.75,268.12 203.97,269.29 204.19,267.86 204.41,267.19 204.63,268.7 204.85,268.85 205.07,268.61 205.29,269.14 205.51,268.92 205.73,268.26 205.95,269.39 206.17,268.38 206.39,267.48 206.61,268.85 206.83,269.04 207.05,268.04 207.27,269.26 207.49,268.83 207.71,269.6 207.93,268.9 208.15,268.17 208.37,269.16 208.59,268.42 208.81,268.65 209.03,269.53 209.25,268.72 209.47,269.39 209.69,268.12 209.91,268.82 210.13,268.3 210.35,268.1 210.57,269.15 210.79,268.87 211.01,269.14 211.23,269.74 211.45,268.08 211.67,269.28 211.89,269.4 212.11,268.42 212.33,269.25 212.55,268.04 212.77,268.84 212.99,268.71 213.21,268.91 213.43,268.66 213.65,268.2 213.87,269.2 214.09,268.75 214.31,268.99 214.53,267.6 214.75,269.12 214.97,268.48 215.19,267.84 215.41,267.76 215.63,267.79 215.85,269.62 216.07,269.68 216.29,269.08 216.51,267.86 216.73,267.87 216.95,267.95 217.17,269.61 217.39,268.85 217.61,267.98 217.83,269.19 218.05,269.28 218.27,268.2 218.49,268.46 218.71,269.21 218.93,269.11 219.15,269.35 219.37,267.85 219.59,269.64 219.81,268.69 220.03,268.17 220.25,269.62 220.47,269.51 220.69,269.2 220.91,269.18 221.13,268.62 221.35,268.64 221.57,267.72 221.79,268.48 222.01,268.83 222.23,269.64 222.45,269.67 222.67,269.81 222.89,268.48 223.11,269.48 223.33,269.53 223.55,268.02 223.77,269.28 223.99,269.41 224.21,268.48 224.43,268.65 224.65,268.1 224.87,269.88 225.09,267.8 225.31,268.34 225.53,268.41 225.75,268.45 225.97,268.72 226.19,268.4 226.41,267.8 226.63,269.58 226.85,268.24 227.07,269.17 227.29,269.52 227.51,269.84 227.73,269.57 227.95,268.05 228.17,268.27 228.39,269.52 228.61,269.47 228.83,268.45 229.05,269.43 229.27,268.2 229.49,268.89 229.71,268.1 229.93,269.08 230.15,269.82 230.37,268.44 230.59,268.93 230.81,269.42 231.03,268.97 231.25,269.73 231.47,268.81 231.69,269.19 231.91,268.79 232.13,268.12 232.35,269.15 232.57,268.46 232.79,268.26 233.02,269.11 233.24,269.17 233.46,268.1 233.68,269.97 233.9,268.57 234.12,268.71 234.34,268.95 234.56,268.72 234.78,269.93 235,268.36 235.22,269.49 235.44,268.89 235.66,268.53 235.88,269.52 236.1,268.09 236.32,268.15 236.54,268.09 236.76,268.49 236.98,268.04 237.2,270.12 237.42,268.99 237.64,269.77 237.86,268.95 238.08,269.77 238.3,270.16 238.52,268.74 238.74,270.25 238.96,268.74 239.18,269.91 239.4,269.75 239.62,270.06 239.84,268.93 240.06,269.03 240.28,268.6 240.5,270.06 240.72,268.43 240.94,268.93 241.16,268.41 241.38,268.28 241.6,270.29 241.82,268.63 242.04,268.86 242.26,270.32 242.48,270.28 242.7,270.04 242.92,270.39 243.14,269.65 243.36,268.95 243.58,268.81 243.8,269.23 244.02,270.42 244.24,270.39 244.46,268.89 244.68,269.9 244.9,269.81 245.12,269.65 245.34,269.4 245.56,269.94 245.78,269.49 246,269.27 246.22,268.92 246.44,268.58 246.66,269.55 246.88,269.98 247.1,269.66 247.32,268.87 247.54,269.52 247.76,268.99 247.98,269.35 248.2,269.74 248.42,270.24 248.64,270.47 248.86,269.91 249.08,269.32 249.3,269.73 249.52,269.55 249.74,270.76 249.96,270.69 250.18,270.08 250.4,270.17 250.62,269.43 250.84,270.25 251.06,270.73 251.28,269.33 251.5,269.13 251.72,270.54 251.94,270.56 252.16,269.65 252.38,269.05 252.6,268.84 252.82,268.98 253.04,269.69 253.26,268.93 253.48,269.43 253.7,269.78 253.92,270.99 254.14,270.13 254.36,269.54 254.58,270.25 254.8,269.51 255.02,269.88 255.24,269.45 255.46,270.61 255.68,269.38 255.9,269.04 256.12,269.86 256.34,269.15 256.56,269.95 256.78,270.24 257,269.12 257.22,270.24 257.44,269.31 257.66,269.5 257.88,269.47 258.1,270.65 258.32,270.63 258.54,270.4 258.76,270.07 258.98,270.84 259.2,270.06 259.42,269.61 259.64,269.73 259.86,270.42 260.08,270.97 260.3,270.82" fill="none" stroke="#6e6e6e" stroke-width="1.45" stroke-linejoin="miter"/>
<path d="M150.5,269.73 150.72,268.87 150.94,269.98 151.16,270.36 151.38,269.24 151.6,268.76 151.82,268.3 152.04,269.8 152.26,268.78 152.48,270.2 152.7,270.19 152.92,269.08 153.14,270.57 153.36,268.5 153.58,270.32 153.8,270.23 154.02,269.58 154.24,269.21 154.46,270.3 154.68,270.38 154.9,270.01 155.12,268.87 155.34,268.53 155.56,268.58 155.78,269.87 156,269.24 156.22,269 156.44,269.92 156.66,268.78 156.88,268.77 157.1,270.76 157.32,269.72 157.54,270.42 157.76,268.95 157.98,269.16 158.2,268.92 158.42,270.52 158.64,270 158.86,270.63 159.08,269.07 159.3,269.79 159.52,269.85 159.74,269.41 159.96,270.86 160.18,268.69 160.4,268.74 160.62,270.38 160.84,268.64 161.06,270.88 161.28,270.83 161.5,268.53 161.72,270.15 161.94,269.16 162.16,268.79 162.38,269.62 162.6,270.64 162.82,269.74 163.04,270.74 163.26,269.27 163.48,270.02 163.7,270.39 163.92,270.44 164.14,268.58 164.36,268.63 164.58,270.7 164.8,269.33 165.02,270.71 165.24,268.84 165.46,268.84 165.68,270.55 165.9,269.89 166.12,269.42 166.34,269.83 166.56,270.14 166.78,269.37 167,271.31 167.22,270.01 167.44,269.28 167.66,269.84 167.88,269.61 168.1,269.27 168.32,269.68 168.54,271.23 168.76,269.77 168.98,269.75 169.2,271.52 169.42,270.44 169.64,271.28 169.86,269.61 170.08,270.43 170.3,271.2 170.52,271.85 170.74,270.49 170.96,271.62 171.18,270.05 171.4,270.64 171.62,270.26 171.84,270.76 172.06,271.05 172.28,272.16 172.5,272.13 172.72,271.87 172.94,271.04 173.16,270.87 173.38,270.85 173.6,270.61 173.82,271.1 174.04,272.34 174.26,271.42 174.48,270.49 174.7,272.48 174.92,271.49 175.14,270.42 175.36,271.6 175.58,270.89 175.8,270.83 176.02,272.18 176.24,271.44 176.46,273.13 176.68,272.54 176.9,272.23 177.12,272.6 177.34,271.96 177.56,272.16 177.78,273.32 178.01,272.58 178.23,272.12 178.45,274.46 178.67,272.35 178.89,272.93 179.11,274.53 179.33,273.42 179.55,274.66 179.77,274.24 179.99,274.46 180.21,274.85 180.43,274.48 180.65,273.2 180.87,273.13 181.09,273.52 181.31,274.58 181.53,274.38 181.75,274.02 181.97,274.87 182.19,273.85 182.41,272.84 182.63,274.35 182.85,274.59 183.07,273.83 183.29,272.98 183.51,274.96 183.73,274.79 183.95,273.14 184.17,273.51 184.39,274.68 184.61,274.92 184.83,273.35 185.05,274.62 185.27,273.72 185.49,273.11 185.71,274.8 185.93,274.67 186.15,272.78 186.37,273.51 186.59,274.63 186.81,274.64 187.03,274.58 187.25,274.78 187.47,273.21 187.69,273.77 187.91,274.57 188.13,272.71 188.35,273.44 188.57,274.96 188.79,274.18 189.01,274.98 189.23,274.88 189.45,274.95 189.67,274.92 189.89,272.86 190.11,274.35 190.33,274.05 190.55,273.52 190.77,273.21 190.99,272.6 191.21,273.89 191.43,274.38 191.65,273.47 191.87,274.19 192.09,273.35 192.31,274.33 192.53,273.34 192.75,273.57 192.97,272.91 193.19,274.86 193.41,274.77 193.63,273.32 193.85,272.6 194.07,273.63 194.29,274.17 194.51,273.66 194.73,273.74 194.95,274.51 195.17,272.8 195.39,274.12 195.61,274.56 195.83,274.21 196.05,273.08 196.27,273.19 196.49,274.64 196.71,273.59 196.93,273.07 197.15,273.79 197.37,274.17 197.59,274.4 197.81,272.86 198.03,273.02 198.25,273.84 198.47,273.2 198.69,273.7 198.91,274.2 199.13,274.03 199.35,274.74 199.57,274.33 199.79,274.59 200.01,274.75 200.23,273.74 200.45,273.19 200.67,274.44 200.89,274.1 201.11,272.79 201.33,273.25 201.55,273.9 201.77,273.16 201.99,274.3 202.21,273.58 202.43,273.6 202.65,273.61 202.87,274 203.09,274.66 203.31,273.51 203.53,273.44 203.75,274.65 203.97,273.61 204.19,273.91 204.41,273.13 204.63,273.65 204.85,273.41 205.07,273.57 205.29,273.72 205.51,274.09 205.73,273.55 205.95,272.67 206.17,272.93 206.39,272.72 206.61,273.11 206.83,274.43 207.05,274.4 207.27,273.21 207.49,272.65 207.71,275 207.93,274.16 208.15,274.18 208.37,274.92 208.59,272.71 208.81,272.98 209.03,274.06 209.25,274.4 209.47,273.15 209.69,274.56 209.91,274.76 210.13,273.07 210.35,273.58 210.57,275.16 210.79,274.6 211.01,274.56 211.23,273.17 211.45,274.99 211.67,273.26 211.89,274.87 212.11,274.04 212.33,274.25 212.55,275.09 212.77,273.33 212.99,274.62 213.21,274.82 213.43,274.9 213.65,273.81 213.87,274.48 214.09,274.25 214.31,273.88 214.53,275.25 214.75,275.39 214.97,274.41 215.19,274.44 215.41,275.84 215.63,274.57 215.85,275.14 216.07,276.27 216.29,274.87 216.51,275.32 216.73,276.55 216.95,277.3 217.17,276.87 217.39,275.91 217.61,277.34 217.83,277.07 218.05,276.94 218.27,277.45 218.49,277.34 218.71,276.25 218.93,276.1 219.15,276.92 219.37,276.07 219.59,276.78 219.81,277.96 220.03,276.29 220.25,276.07 220.47,276.02 220.69,276.87 220.91,277.92 221.13,277.25 221.35,277.65 221.57,277.65 221.79,276.68 222.01,275.99 222.23,277.8 222.45,277.51 222.67,275.7 222.89,275.65 223.11,276.86 223.33,277.89 223.55,277.33 223.77,277.39 223.99,276.74 224.21,276.54 224.43,277.85 224.65,276.95 224.87,277.23 225.09,275.95 225.31,277.03 225.53,275.85 225.75,275.44 225.97,276.85 226.19,275.97 226.41,277.1 226.63,277.05 226.85,277.29 227.07,276.98 227.29,276.4 227.51,276.93 227.73,277.35 227.95,275.76 228.17,277.15 228.39,276.04 228.61,277 228.83,277.6 229.05,276.51 229.27,275.42 229.49,276.09 229.71,275.53 229.93,277.31 230.15,277.58 230.37,276.92 230.59,275.4 230.81,276.44 231.03,277.51 231.25,276.72 231.47,276.5 231.69,276.16 231.91,276.93 232.13,276.12 232.35,276.02 232.57,277.29 232.79,276.43 233.02,276.12 233.24,276.31 233.46,277.72 233.68,276.65 233.9,275.8 234.12,277.17 234.34,277.18 234.56,276.68 234.78,276.41 235,275.66 235.22,276.83 235.44,275.75 235.66,276.7 235.88,277.76 236.1,276.49 236.32,277.38 236.54,277.11 236.76,276.05 236.98,277.74 237.2,276.72 237.42,277.61 237.64,277.51 237.86,276.07 238.08,276.4 238.3,276.63 238.52,276.09 238.74,276.82 238.96,276.59 239.18,276.71 239.4,276.75 239.62,276.52 239.84,275.88 240.06,276.81 240.28,277.3 240.5,277.23 240.72,277.39 240.94,277.04 241.16,277.8 241.38,275.54 241.6,276.87 241.82,277.55 242.04,276.72 242.26,277.2 242.48,277.04 242.7,276.59 242.92,276.28 243.14,277.03 243.36,277.52 243.58,276.39 243.8,277.21 244.02,277.58 244.24,275.65 244.46,277.7 244.68,277.29 244.9,275.73 245.12,277.59 245.34,277.17 245.56,275.62 245.78,276.21 246,275.86 246.22,276.87 246.44,275.92 246.66,277.61 246.88,276.1 247.1,275.87 247.32,276.14 247.54,275.55 247.76,277.7 247.98,275.92 248.2,276.37 248.42,277.08 248.64,276.15 248.86,276.03 249.08,276.71 249.3,276.93 249.52,277.94 249.74,277.91 249.96,276.22 250.18,277.21 250.4,275.69 250.62,276.76 250.84,276.26 251.06,277.03 251.28,277.11 251.5,277.21 251.72,277.17 251.94,277.1 252.16,277.14 252.38,276.65 252.6,277.36 252.82,276.31 253.04,276.03 253.26,276.9 253.48,276.88 253.7,277.61 253.92,277.6 254.14,277.55 254.36,276.43 254.58,277.94 254.8,277.95 255.02,277.37 255.24,277.95 255.46,276.51 255.68,275.67 255.9,276.73 256.12,277.26 256.34,277.62 256.56,275.91 256.78,275.71 257,277 257.22,276.19 257.44,277.64 257.66,276.39 257.88,276 258.1,276.4 258.32,275.91 258.54,276 258.76,277.29 258.98,277.95 259.2,277.47 259.42,276.68 259.64,276.87 259.86,277.98 260.08,276.59 260.3,277.98" fill="none" stroke="#86b4f4" stroke-width="1.45" stroke-linejoin="miter"/>
<line x1="150" y1="223.5" x2="150" y2="297.1" stroke="#4a4a4a" stroke-width="1.1" stroke-linecap="butt"/>
<line x1="149.5" y1="296.6" x2="260.8" y2="296.6" stroke="#6a6a6a" stroke-width="1.4" stroke-linecap="butt"/>
<line x1="147.5" y1="296.6" x2="150" y2="296.6" stroke="#222" stroke-width="1" stroke-linecap="butt"/>
<text x="147" y="298.6" font-size="5.7" text-anchor="end" font-weight="bold" fill="#000" stroke="#000" stroke-width="0.25" >130</text>
<line x1="147.5" y1="284.42" x2="150" y2="284.42" stroke="#222" stroke-width="1" stroke-linecap="butt"/>
<text x="147" y="286.42" font-size="5.7" text-anchor="end" font-weight="bold" fill="#000" stroke="#000" stroke-width="0.25" >140</text>
<line x1="147.5" y1="272.23" x2="150" y2="272.23" stroke="#222" stroke-width="1" stroke-linecap="butt"/>
<text x="147" y="274.23" font-size="5.7" text-anchor="end" font-weight="bold" fill="#000" stroke="#000" stroke-width="0.25" >150</text>
<line x1="147.5" y1="260.05" x2="150" y2="260.05" stroke="#222" stroke-width="1" stroke-linecap="butt"/>
<text x="147" y="262.05" font-size="5.7" text-anchor="end" font-weight="bold" fill="#000" stroke="#000" stroke-width="0.25" >160</text>
<line x1="147.5" y1="247.87" x2="150" y2="247.87" stroke="#222" stroke-width="1" stroke-linecap="butt"/>
<text x="147" y="249.87" font-size="5.7" text-anchor="end" font-weight="bold" fill="#000" stroke="#000" stroke-width="0.25" >170</text>
<line x1="147.5" y1="235.68" x2="150" y2="235.68" stroke="#222" stroke-width="1" stroke-linecap="butt"/>
<text x="147" y="237.68" font-size="5.7" text-anchor="end" font-weight="bold" fill="#000" stroke="#000" stroke-width="0.25" >180</text>
<line x1="147.5" y1="223.5" x2="150" y2="223.5" stroke="#222" stroke-width="1" stroke-linecap="butt"/>
<text x="147" y="225.5" font-size="5.7" text-anchor="end" font-weight="bold" fill="#000" stroke="#000" stroke-width="0.25" >190</text>
<line x1="150" y1="296.6" x2="150" y2="299.1" stroke="#222" stroke-width="1" stroke-linecap="butt"/>
<text transform="translate(151.1,303.2) rotate(-45)" font-size="5.8" text-anchor="end" font-weight="bold" fill="#000" stroke="#000" stroke-width="0.15" dominant-baseline="central">0</text>
<line x1="172.06" y1="296.6" x2="172.06" y2="299.1" stroke="#222" stroke-width="1" stroke-linecap="butt"/>
<text transform="translate(173.16,303.2) rotate(-45)" font-size="5.8" text-anchor="end" font-weight="bold" fill="#000" stroke="#000" stroke-width="0.15" dominant-baseline="central">3</text>
<line x1="194.12" y1="296.6" x2="194.12" y2="299.1" stroke="#222" stroke-width="1" stroke-linecap="butt"/>
<text transform="translate(195.22,303.2) rotate(-45)" font-size="5.8" text-anchor="end" font-weight="bold" fill="#000" stroke="#000" stroke-width="0.15" dominant-baseline="central">6</text>
<line x1="216.18" y1="296.6" x2="216.18" y2="299.1" stroke="#222" stroke-width="1" stroke-linecap="butt"/>
<text transform="translate(217.28,303.2) rotate(-45)" font-size="5.8" text-anchor="end" font-weight="bold" fill="#000" stroke="#000" stroke-width="0.15" dominant-baseline="central">9</text>
<line x1="238.24" y1="296.6" x2="238.24" y2="299.1" stroke="#222" stroke-width="1" stroke-linecap="butt"/>
<text transform="translate(239.34,303.2) rotate(-45)" font-size="5.8" text-anchor="end" font-weight="bold" fill="#000" stroke="#000" stroke-width="0.15" dominant-baseline="central">12</text>
<line x1="260.3" y1="296.6" x2="260.3" y2="299.1" stroke="#222" stroke-width="1" stroke-linecap="butt"/>
<text transform="translate(261.4,303.2) rotate(-45)" font-size="5.8" text-anchor="end" font-weight="bold" fill="#000" stroke="#000" stroke-width="0.15" dominant-baseline="central">15</text>
<text x="205.55" y="316.7" font-size="6.1" text-anchor="middle" font-weight="bold" fill="#000" stroke="#000" stroke-width="0.25" >Time (min)</text>
<text transform="translate(127,259.75) rotate(-90)" font-size="6.45" text-anchor="middle" font-weight="normal" fill="#000" stroke="#000" stroke-width="0.25">Fluorescence - 405 nm</text>
<text transform="translate(133.2,259.75) rotate(-90)" font-size="6.6" text-anchor="middle" font-weight="normal" fill="#000" stroke="#000" stroke-width="0.25">(arbitrary units)</text>
<line x1="366.05" y1="132.32" x2="366.05" y2="176.8" stroke="#7c7c7c" stroke-width="1" stroke-linecap="butt"/>
<line x1="359.55" y1="132.32" x2="372.55" y2="132.32" stroke="#7c7c7c" stroke-width="1.25" stroke-linecap="butt"/>
<rect x="353.3" y="176.8" width="25.5" height="31.9" fill="#000"/>
<line x1="404.55" y1="157.5" x2="404.55" y2="198.46" stroke="#333" stroke-width="1" stroke-linecap="butt"/>
<line x1="398.05" y1="157.5" x2="411.05" y2="157.5" stroke="#333" stroke-width="1.25" stroke-linecap="butt"/>
<rect x="391.8" y="198.46" width="25.5" height="10.24" fill="#0000ff"/>
<line x1="340.3" y1="74.4" x2="340.3" y2="209.45" stroke="#000" stroke-width="1.5" stroke-linecap="butt"/>
<line x1="339.55" y1="208.7" x2="431.3" y2="208.7" stroke="#2a2a2a" stroke-width="1.7" stroke-linecap="butt"/>
<line x1="334.3" y1="208.7" x2="340.3" y2="208.7" stroke="#000" stroke-width="1.5" stroke-linecap="butt"/>
<text transform="translate(332.8,212.5) scale(1.0,1)" font-size="9.7" text-anchor="end" font-weight="bold" fill="#000" stroke="#000" stroke-width="0.2">140</text>
<line x1="334.3" y1="175.12" x2="340.3" y2="175.12" stroke="#000" stroke-width="1.5" stroke-linecap="butt"/>
<text transform="translate(332.8,178.93) scale(1.0,1)" font-size="9.7" text-anchor="end" font-weight="bold" fill="#000" stroke="#000" stroke-width="0.2">160</text>
<line x1="334.3" y1="141.55" x2="340.3" y2="141.55" stroke="#000" stroke-width="1.5" stroke-linecap="butt"/>
<text transform="translate(332.8,145.35) scale(1.0,1)" font-size="9.7" text-anchor="end" font-weight="bold" fill="#000" stroke="#000" stroke-width="0.2">180</text>
<line x1="334.3" y1="107.98" x2="340.3" y2="107.98" stroke="#000" stroke-width="1.5" stroke-linecap="butt"/>
<text transform="translate(332.8,111.78) scale(1.0,1)" font-size="9.7" text-anchor="end" font-weight="bold" fill="#000" stroke="#000" stroke-width="0.2">200</text>
<line x1="334.3" y1="74.4" x2="340.3" y2="74.4" stroke="#000" stroke-width="1.5" stroke-linecap="butt"/>
<text transform="translate(332.8,78.2) scale(1.0,1)" font-size="9.7" text-anchor="end" font-weight="bold" fill="#000" stroke="#000" stroke-width="0.2">220</text>
<line x1="366.05" y1="208.7" x2="366.05" y2="214.7" stroke="#000" stroke-width="1.5" stroke-linecap="butt"/>
<line x1="404.55" y1="208.7" x2="404.55" y2="214.7" stroke="#000" stroke-width="1.5" stroke-linecap="butt"/>
<text x="366.2" y="225.2" font-size="9.9" text-anchor="middle" font-weight="bold" fill="#000" stroke="#000" stroke-width="0.25" >Saline</text>
<text x="404.8" y="225.2" font-size="9.9" text-anchor="middle" font-weight="bold" fill="#000" stroke="#000" stroke-width="0.25" >U50</text>
<text transform="translate(296.6,141.3) rotate(-90)" font-size="10.85" text-anchor="middle" font-weight="bold" fill="#000" stroke="#000" stroke-width="0.25">Fluorescence - 465 nm</text>
<text transform="translate(309.8,141.3) rotate(-90)" font-size="10.85" text-anchor="middle" font-weight="bold" fill="#000" stroke="#000" stroke-width="0.25">(arbitrary units)</text>
<polyline points="366.05,124.2 366.05,115.9 404.55,115.9 404.55,150" fill="none" stroke="#000" stroke-width="1.6"/>
<line x1="385.1" y1="103.1" x2="385.1" y2="109.7" stroke="#000" stroke-width="1.7" stroke-linecap="butt"/>
<line x1="382.24" y1="104.75" x2="387.96" y2="108.05" stroke="#000" stroke-width="1.7" stroke-linecap="butt"/>
<line x1="382.24" y1="108.05" x2="387.96" y2="104.75" stroke="#000" stroke-width="1.7" stroke-linecap="butt"/>
<line x1="529.05" y1="112.68" x2="529.05" y2="141.55" stroke="#7c7c7c" stroke-width="1" stroke-linecap="butt"/>
<line x1="522.55" y1="112.68" x2="535.55" y2="112.68" stroke="#7c7c7c" stroke-width="1.25" stroke-linecap="butt"/>
<rect x="516.3" y="141.55" width="25.5" height="67.15" fill="#000"/>
<line x1="567.55" y1="128.79" x2="567.55" y2="154.81" stroke="#0000ff" stroke-width="1" stroke-linecap="butt"/>
<line x1="561.05" y1="128.79" x2="574.05" y2="128.79" stroke="#0000ff" stroke-width="1.25" stroke-linecap="butt"/>
<rect x="554.8" y="154.81" width="25.5" height="53.89" fill="#0000ff"/>
<line x1="503.3" y1="74.4" x2="503.3" y2="209.45" stroke="#000" stroke-width="1.5" stroke-linecap="butt"/>
<line x1="502.55" y1="208.7" x2="594.3" y2="208.7" stroke="#2a2a2a" stroke-width="1.7" stroke-linecap="butt"/>
<line x1="497.3" y1="208.7" x2="503.3" y2="208.7" stroke="#000" stroke-width="1.5" stroke-linecap="butt"/>
<text transform="translate(495.8,212.5) scale(1.0,1)" font-size="9.7" text-anchor="end" font-weight="bold" fill="#000" stroke="#000" stroke-width="0.2">60</text>
<line x1="497.3" y1="175.12" x2="503.3" y2="175.12" stroke="#000" stroke-width="1.5" stroke-linecap="butt"/>
<text transform="translate(495.8,178.93) scale(1.0,1)" font-size="9.7" text-anchor="end" font-weight="bold" fill="#000" stroke="#000" stroke-width="0.2">80</text>
<line x1="497.3" y1="141.55" x2="503.3" y2="141.55" stroke="#000" stroke-width="1.5" stroke-linecap="butt"/>
<text transform="translate(495.8,145.35) scale(1.0,1)" font-size="9.7" text-anchor="end" font-weight="bold" fill="#000" stroke="#000" stroke-width="0.2">100</text>
<line x1="497.3" y1="107.98" x2="503.3" y2="107.98" stroke="#000" stroke-width="1.5" stroke-linecap="butt"/>
<text transform="translate(495.8,111.78) scale(1.0,1)" font-size="9.7" text-anchor="end" font-weight="bold" fill="#000" stroke="#000" stroke-width="0.2">120</text>
<line x1="497.3" y1="74.4" x2="503.3" y2="74.4" stroke="#000" stroke-width="1.5" stroke-linecap="butt"/>
<text transform="translate(495.8,78.2) scale(1.0,1)" font-size="9.7" text-anchor="end" font-weight="bold" fill="#000" stroke="#000" stroke-width="0.2">140</text>
<line x1="529.05" y1="208.7" x2="529.05" y2="214.7" stroke="#000" stroke-width="1.5" stroke-linecap="butt"/>
<line x1="567.55" y1="208.7" x2="567.55" y2="214.7" stroke="#000" stroke-width="1.5" stroke-linecap="butt"/>
<text x="529.2" y="225.2" font-size="9.9" text-anchor="middle" font-weight="bold" fill="#000" stroke="#000" stroke-width="0.25" >Saline</text>
<text x="567.8" y="225.2" font-size="9.9" text-anchor="middle" font-weight="bold" fill="#000" stroke="#000" stroke-width="0.25" >U50</text>
<text transform="translate(459.2,141.3) rotate(-90)" font-size="10.9" text-anchor="middle" font-weight="bold" fill="#000" stroke="#000" stroke-width="0.25">Fluorescence (465 nm)</text>
<text transform="translate(472.5,141.3) rotate(-90)" font-size="10.9" text-anchor="middle" font-weight="bold" fill="#000" stroke="#000" stroke-width="0.25">(% normalized to saline)</text>
<polyline points="529.05,106.1 529.05,97.7 567.55,97.7 567.55,121.8" fill="none" stroke="#000" stroke-width="1.6"/>
<line x1="548.1" y1="85" x2="548.1" y2="91.6" stroke="#000" stroke-width="1.7" stroke-linecap="butt"/>
<line x1="545.24" y1="86.65" x2="550.96" y2="89.95" stroke="#000" stroke-width="1.7" stroke-linecap="butt"/>
<line x1="545.24" y1="89.95" x2="550.96" y2="86.65" stroke="#000" stroke-width="1.7" stroke-linecap="butt"/>
<line x1="694.75" y1="129.24" x2="694.75" y2="141.85" stroke="#444" stroke-width="1" stroke-linecap="butt"/>
<line x1="688.25" y1="129.24" x2="701.25" y2="129.24" stroke="#444" stroke-width="1.25" stroke-linecap="butt"/>
<rect x="682" y="141.85" width="25.5" height="67.25" fill="#767676"/>
<line x1="733.25" y1="134.28" x2="733.25" y2="146.39" stroke="#444" stroke-width="1" stroke-linecap="butt"/>
<line x1="726.75" y1="134.28" x2="739.75" y2="134.28" stroke="#444" stroke-width="1.25" stroke-linecap="butt"/>
<rect x="720.5" y="146.39" width="25.5" height="62.71" fill="#92bcf8"/>
<line x1="669" y1="74.6" x2="669" y2="209.85" stroke="#000" stroke-width="1.5" stroke-linecap="butt"/>
<line x1="668.25" y1="209.1" x2="760" y2="209.1" stroke="#2a2a2a" stroke-width="1.7" stroke-linecap="butt"/>
<line x1="663" y1="209.1" x2="669" y2="209.1" stroke="#000" stroke-width="1.5" stroke-linecap="butt"/>
<text transform="translate(661.5,212.9) scale(1.0,1)" font-size="9.7" text-anchor="end" font-weight="bold" fill="#000" stroke="#000" stroke-width="0.2">60</text>
<line x1="663" y1="175.47" x2="669" y2="175.47" stroke="#000" stroke-width="1.5" stroke-linecap="butt"/>
<text transform="translate(661.5,179.28) scale(1.0,1)" font-size="9.7" text-anchor="end" font-weight="bold" fill="#000" stroke="#000" stroke-width="0.2">80</text>
<line x1="663" y1="141.85" x2="669" y2="141.85" stroke="#000" stroke-width="1.5" stroke-linecap="butt"/>
<text transform="translate(661.5,145.65) scale(1.0,1)" font-size="9.7" text-anchor="end" font-weight="bold" fill="#000" stroke="#000" stroke-width="0.2">100</text>
<line x1="663" y1="108.22" x2="669" y2="108.22" stroke="#000" stroke-width="1.5" stroke-linecap="butt"/>
<text transform="translate(661.5,112.02) scale(1.0,1)" font-size="9.7" text-anchor="end" font-weight="bold" fill="#000" stroke="#000" stroke-width="0.2">120</text>
<line x1="663" y1="74.6" x2="669" y2="74.6" stroke="#000" stroke-width="1.5" stroke-linecap="butt"/>
<text transform="translate(661.5,78.4) scale(1.0,1)" font-size="9.7" text-anchor="end" font-weight="bold" fill="#000" stroke="#000" stroke-width="0.2">140</text>
<line x1="694.75" y1="209.1" x2="694.75" y2="215.1" stroke="#000" stroke-width="1.5" stroke-linecap="butt"/>
<line x1="733.25" y1="209.1" x2="733.25" y2="215.1" stroke="#000" stroke-width="1.5" stroke-linecap="butt"/>
<text x="694.9" y="225.6" font-size="9.9" text-anchor="middle" font-weight="bold" fill="#000" stroke="#000" stroke-width="0.25" >Saline</text>
<text x="733.5" y="225.6" font-size="9.9" text-anchor="middle" font-weight="bold" fill="#000" stroke="#000" stroke-width="0.25" >U50</text>
<text transform="translate(624.6,141.3) rotate(-90)" font-size="10.85" text-anchor="middle" font-weight="bold" fill="#000" stroke="#000" stroke-width="0.25">Fluorescence (405 nm)</text>
<text transform="translate(638,141.3) rotate(-90)" font-size="10.85" text-anchor="middle" font-weight="bold" fill="#000" stroke="#000" stroke-width="0.25">(% normalized to saline)</text>
<line x1="366.35" y1="298.49" x2="366.35" y2="336.91" stroke="#7c7c7c" stroke-width="1" stroke-linecap="butt"/>
<line x1="359.85" y1="298.49" x2="372.85" y2="298.49" stroke="#7c7c7c" stroke-width="1.25" stroke-linecap="butt"/>
<path d="M354.7,423.8V338.01H378V423.8" fill="none" stroke="#000" stroke-width="2.2"/>
<line x1="404.85" y1="317.28" x2="404.85" y2="355.36" stroke="#0000ff" stroke-width="1" stroke-linecap="butt"/>
<line x1="398.35" y1="317.28" x2="411.35" y2="317.28" stroke="#0000ff" stroke-width="1.25" stroke-linecap="butt"/>
<path d="M393.2,423.8V356.46H416.5V423.8" fill="none" stroke="#0000ff" stroke-width="2.2"/>
<line x1="340.6" y1="289.6" x2="340.6" y2="424.55" stroke="#000" stroke-width="1.5" stroke-linecap="butt"/>
<line x1="339.85" y1="423.8" x2="431.6" y2="423.8" stroke="#2a2a2a" stroke-width="1.7" stroke-linecap="butt"/>
<line x1="334.6" y1="423.8" x2="340.6" y2="423.8" stroke="#000" stroke-width="1.5" stroke-linecap="butt"/>
<text transform="translate(333.1,427.6) scale(1.0,1)" font-size="9.7" text-anchor="end" font-weight="bold" fill="#000" stroke="#000" stroke-width="0.2">140</text>
<line x1="334.6" y1="390.25" x2="340.6" y2="390.25" stroke="#000" stroke-width="1.5" stroke-linecap="butt"/>
<text transform="translate(333.1,394.05) scale(1.0,1)" font-size="9.7" text-anchor="end" font-weight="bold" fill="#000" stroke="#000" stroke-width="0.2">160</text>
<line x1="334.6" y1="356.7" x2="340.6" y2="356.7" stroke="#000" stroke-width="1.5" stroke-linecap="butt"/>
<text transform="translate(333.1,360.5) scale(1.0,1)" font-size="9.7" text-anchor="end" font-weight="bold" fill="#000" stroke="#000" stroke-width="0.2">180</text>
<line x1="334.6" y1="323.15" x2="340.6" y2="323.15" stroke="#000" stroke-width="1.5" stroke-linecap="butt"/>
<text transform="translate(333.1,326.95) scale(1.0,1)" font-size="9.7" text-anchor="end" font-weight="bold" fill="#000" stroke="#000" stroke-width="0.2">200</text>
<line x1="334.6" y1="289.6" x2="340.6" y2="289.6" stroke="#000" stroke-width="1.5" stroke-linecap="butt"/>
<text transform="translate(333.1,293.4) scale(1.0,1)" font-size="9.7" text-anchor="end" font-weight="bold" fill="#000" stroke="#000" stroke-width="0.2">220</text>
<line x1="366.35" y1="423.8" x2="366.35" y2="429.8" stroke="#000" stroke-width="1.5" stroke-linecap="butt"/>
<line x1="404.85" y1="423.8" x2="404.85" y2="429.8" stroke="#000" stroke-width="1.5" stroke-linecap="butt"/>
<text x="366.5" y="440.3" font-size="9.9" text-anchor="middle" font-weight="bold" fill="#000" stroke="#000" stroke-width="0.25" >Saline</text>
<text x="405.1" y="440.3" font-size="9.9" text-anchor="middle" font-weight="bold" fill="#000" stroke="#000" stroke-width="0.25" >U50</text>
<text transform="translate(296.7,356.5) rotate(-90)" font-size="10.8" text-anchor="middle" font-weight="bold" fill="#000" stroke="#000" stroke-width="0.25">Fluorescence - 465 nm</text>
<text transform="translate(309.8,356.5) rotate(-90)" font-size="10.8" text-anchor="middle" font-weight="bold" fill="#000" stroke="#000" stroke-width="0.25">(arbitrary units)</text>
<polyline points="366.35,291.7 366.35,282.7 404.85,282.7 404.85,309.5" fill="none" stroke="#000" stroke-width="1.6"/>
<line x1="385.4" y1="270.3" x2="385.4" y2="276.9" stroke="#000" stroke-width="1.7" stroke-linecap="butt"/>
<line x1="382.54" y1="271.95" x2="388.26" y2="275.25" stroke="#000" stroke-width="1.7" stroke-linecap="butt"/>
<line x1="382.54" y1="275.25" x2="388.26" y2="271.95" stroke="#000" stroke-width="1.7" stroke-linecap="butt"/>
<line x1="529.05" y1="337.15" x2="529.05" y2="357.15" stroke="#7c7c7c" stroke-width="1" stroke-linecap="butt"/>
<line x1="522.55" y1="337.15" x2="535.55" y2="337.15" stroke="#7c7c7c" stroke-width="1.25" stroke-linecap="butt"/>
<path d="M517.4,423.8V358.25H540.7V423.8" fill="none" stroke="#000" stroke-width="2.2"/>
<line x1="567.55" y1="346.15" x2="567.55" y2="366.48" stroke="#0000ff" stroke-width="1" stroke-linecap="butt"/>
<line x1="561.05" y1="346.15" x2="574.05" y2="346.15" stroke="#0000ff" stroke-width="1.25" stroke-linecap="butt"/>
<path d="M555.9,423.8V367.58H579.2V423.8" fill="none" stroke="#0000ff" stroke-width="2.2"/>
<line x1="503.3" y1="290.5" x2="503.3" y2="424.55" stroke="#000" stroke-width="1.5" stroke-linecap="butt"/>
<line x1="502.55" y1="423.8" x2="594.3" y2="423.8" stroke="#2a2a2a" stroke-width="1.7" stroke-linecap="butt"/>
<line x1="497.3" y1="423.8" x2="503.3" y2="423.8" stroke="#000" stroke-width="1.5" stroke-linecap="butt"/>
<text transform="translate(495.8,427.6) scale(1.0,1)" font-size="9.7" text-anchor="end" font-weight="bold" fill="#000" stroke="#000" stroke-width="0.2">60</text>
<line x1="497.3" y1="390.48" x2="503.3" y2="390.48" stroke="#000" stroke-width="1.5" stroke-linecap="butt"/>
<text transform="translate(495.8,394.28) scale(1.0,1)" font-size="9.7" text-anchor="end" font-weight="bold" fill="#000" stroke="#000" stroke-width="0.2">80</text>
<line x1="497.3" y1="357.15" x2="503.3" y2="357.15" stroke="#000" stroke-width="1.5" stroke-linecap="butt"/>
<text transform="translate(495.8,360.95) scale(1.0,1)" font-size="9.7" text-anchor="end" font-weight="bold" fill="#000" stroke="#000" stroke-width="0.2">100</text>
<line x1="497.3" y1="323.82" x2="503.3" y2="323.82" stroke="#000" stroke-width="1.5" stroke-linecap="butt"/>
<text transform="translate(495.8,327.62) scale(1.0,1)" font-size="9.7" text-anchor="end" font-weight="bold" fill="#000" stroke="#000" stroke-width="0.2">120</text>
<line x1="497.3" y1="290.5" x2="503.3" y2="290.5" stroke="#000" stroke-width="1.5" stroke-linecap="butt"/>
<text transform="translate(495.8,294.3) scale(1.0,1)" font-size="9.7" text-anchor="end" font-weight="bold" fill="#000" stroke="#000" stroke-width="0.2">140</text>
<line x1="529.05" y1="423.8" x2="529.05" y2="429.8" stroke="#000" stroke-width="1.5" stroke-linecap="butt"/>
<line x1="567.55" y1="423.8" x2="567.55" y2="429.8" stroke="#000" stroke-width="1.5" stroke-linecap="butt"/>
<text x="529.2" y="440.3" font-size="9.9" text-anchor="middle" font-weight="bold" fill="#000" stroke="#000" stroke-width="0.25" >Saline</text>
<text x="567.8" y="440.3" font-size="9.9" text-anchor="middle" font-weight="bold" fill="#000" stroke="#000" stroke-width="0.25" >U50</text>
<text transform="translate(459.2,356.7) rotate(-90)" font-size="10.9" text-anchor="middle" font-weight="bold" fill="#000" stroke="#000" stroke-width="0.25">Fluorescence (465 nm)</text>
<text transform="translate(472.5,356.7) rotate(-90)" font-size="10.9" text-anchor="middle" font-weight="bold" fill="#000" stroke="#000" stroke-width="0.25">(% normalized to saline)</text>
<polyline points="529.05,328.9 529.05,321.3 567.55,321.3 567.55,338.8" fill="none" stroke="#000" stroke-width="1.6"/>
<line x1="548.1" y1="308.5" x2="548.1" y2="315.1" stroke="#000" stroke-width="1.7" stroke-linecap="butt"/>
<line x1="545.24" y1="310.15" x2="550.96" y2="313.45" stroke="#000" stroke-width="1.7" stroke-linecap="butt"/>
<line x1="545.24" y1="313.45" x2="550.96" y2="310.15" stroke="#000" stroke-width="1.7" stroke-linecap="butt"/>
<line x1="695.35" y1="341.7" x2="695.35" y2="357.55" stroke="#888" stroke-width="1" stroke-linecap="butt"/>
<line x1="688.85" y1="341.7" x2="701.85" y2="341.7" stroke="#888" stroke-width="1.25" stroke-linecap="butt"/>
<path d="M683.7,424.3V358.65H707V424.3" fill="none" stroke="#777" stroke-width="2.2"/>
<line x1="733.85" y1="348.54" x2="733.85" y2="364.39" stroke="#a8cbf7" stroke-width="1" stroke-linecap="butt"/>
<line x1="727.35" y1="348.54" x2="740.35" y2="348.54" stroke="#a8cbf7" stroke-width="1.25" stroke-linecap="butt"/>
<path d="M722.2,424.3V365.49H745.5V424.3" fill="none" stroke="#8ab8f5" stroke-width="2.2"/>
<line x1="669.6" y1="290.8" x2="669.6" y2="425.05" stroke="#000" stroke-width="1.5" stroke-linecap="butt"/>
<line x1="668.85" y1="424.3" x2="760.6" y2="424.3" stroke="#2a2a2a" stroke-width="1.7" stroke-linecap="butt"/>
<line x1="663.6" y1="424.3" x2="669.6" y2="424.3" stroke="#000" stroke-width="1.5" stroke-linecap="butt"/>
<text transform="translate(662.1,428.1) scale(1.0,1)" font-size="9.7" text-anchor="end" font-weight="bold" fill="#000" stroke="#000" stroke-width="0.2">60</text>
<line x1="663.6" y1="390.93" x2="669.6" y2="390.93" stroke="#000" stroke-width="1.5" stroke-linecap="butt"/>
<text transform="translate(662.1,394.73) scale(1.0,1)" font-size="9.7" text-anchor="end" font-weight="bold" fill="#000" stroke="#000" stroke-width="0.2">80</text>
<line x1="663.6" y1="357.55" x2="669.6" y2="357.55" stroke="#000" stroke-width="1.5" stroke-linecap="butt"/>
<text transform="translate(662.1,361.35) scale(1.0,1)" font-size="9.7" text-anchor="end" font-weight="bold" fill="#000" stroke="#000" stroke-width="0.2">100</text>
<line x1="663.6" y1="324.18" x2="669.6" y2="324.18" stroke="#000" stroke-width="1.5" stroke-linecap="butt"/>
<text transform="translate(662.1,327.98) scale(1.0,1)" font-size="9.7" text-anchor="end" font-weight="bold" fill="#000" stroke="#000" stroke-width="0.2">120</text>
<line x1="663.6" y1="290.8" x2="669.6" y2="290.8" stroke="#000" stroke-width="1.5" stroke-linecap="butt"/>
<text transform="translate(662.1,294.6) scale(1.0,1)" font-size="9.7" text-anchor="end" font-weight="bold" fill="#000" stroke="#000" stroke-width="0.2">140</text>
<line x1="695.35" y1="424.3" x2="695.35" y2="430.3" stroke="#000" stroke-width="1.5" stroke-linecap="butt"/>
<line x1="733.85" y1="424.3" x2="733.85" y2="430.3" stroke="#000" stroke-width="1.5" stroke-linecap="butt"/>
<text x="695.5" y="440.8" font-size="9.9" text-anchor="middle" font-weight="bold" fill="#000" stroke="#000" stroke-width="0.25" >Saline</text>
<text x="734.1" y="440.8" font-size="9.9" text-anchor="middle" font-weight="bold" fill="#000" stroke="#000" stroke-width="0.25" >U50</text>
<text transform="translate(625,357) rotate(-90)" font-size="10.85" text-anchor="middle" font-weight="bold" fill="#000" stroke="#000" stroke-width="0.25">Fluorescence (405 nm)</text>
<text transform="translate(638.5,357) rotate(-90)" font-size="10.85" text-anchor="middle" font-weight="bold" fill="#000" stroke="#000" stroke-width="0.25">(% normalized to saline)</text>
</svg></body></html>
